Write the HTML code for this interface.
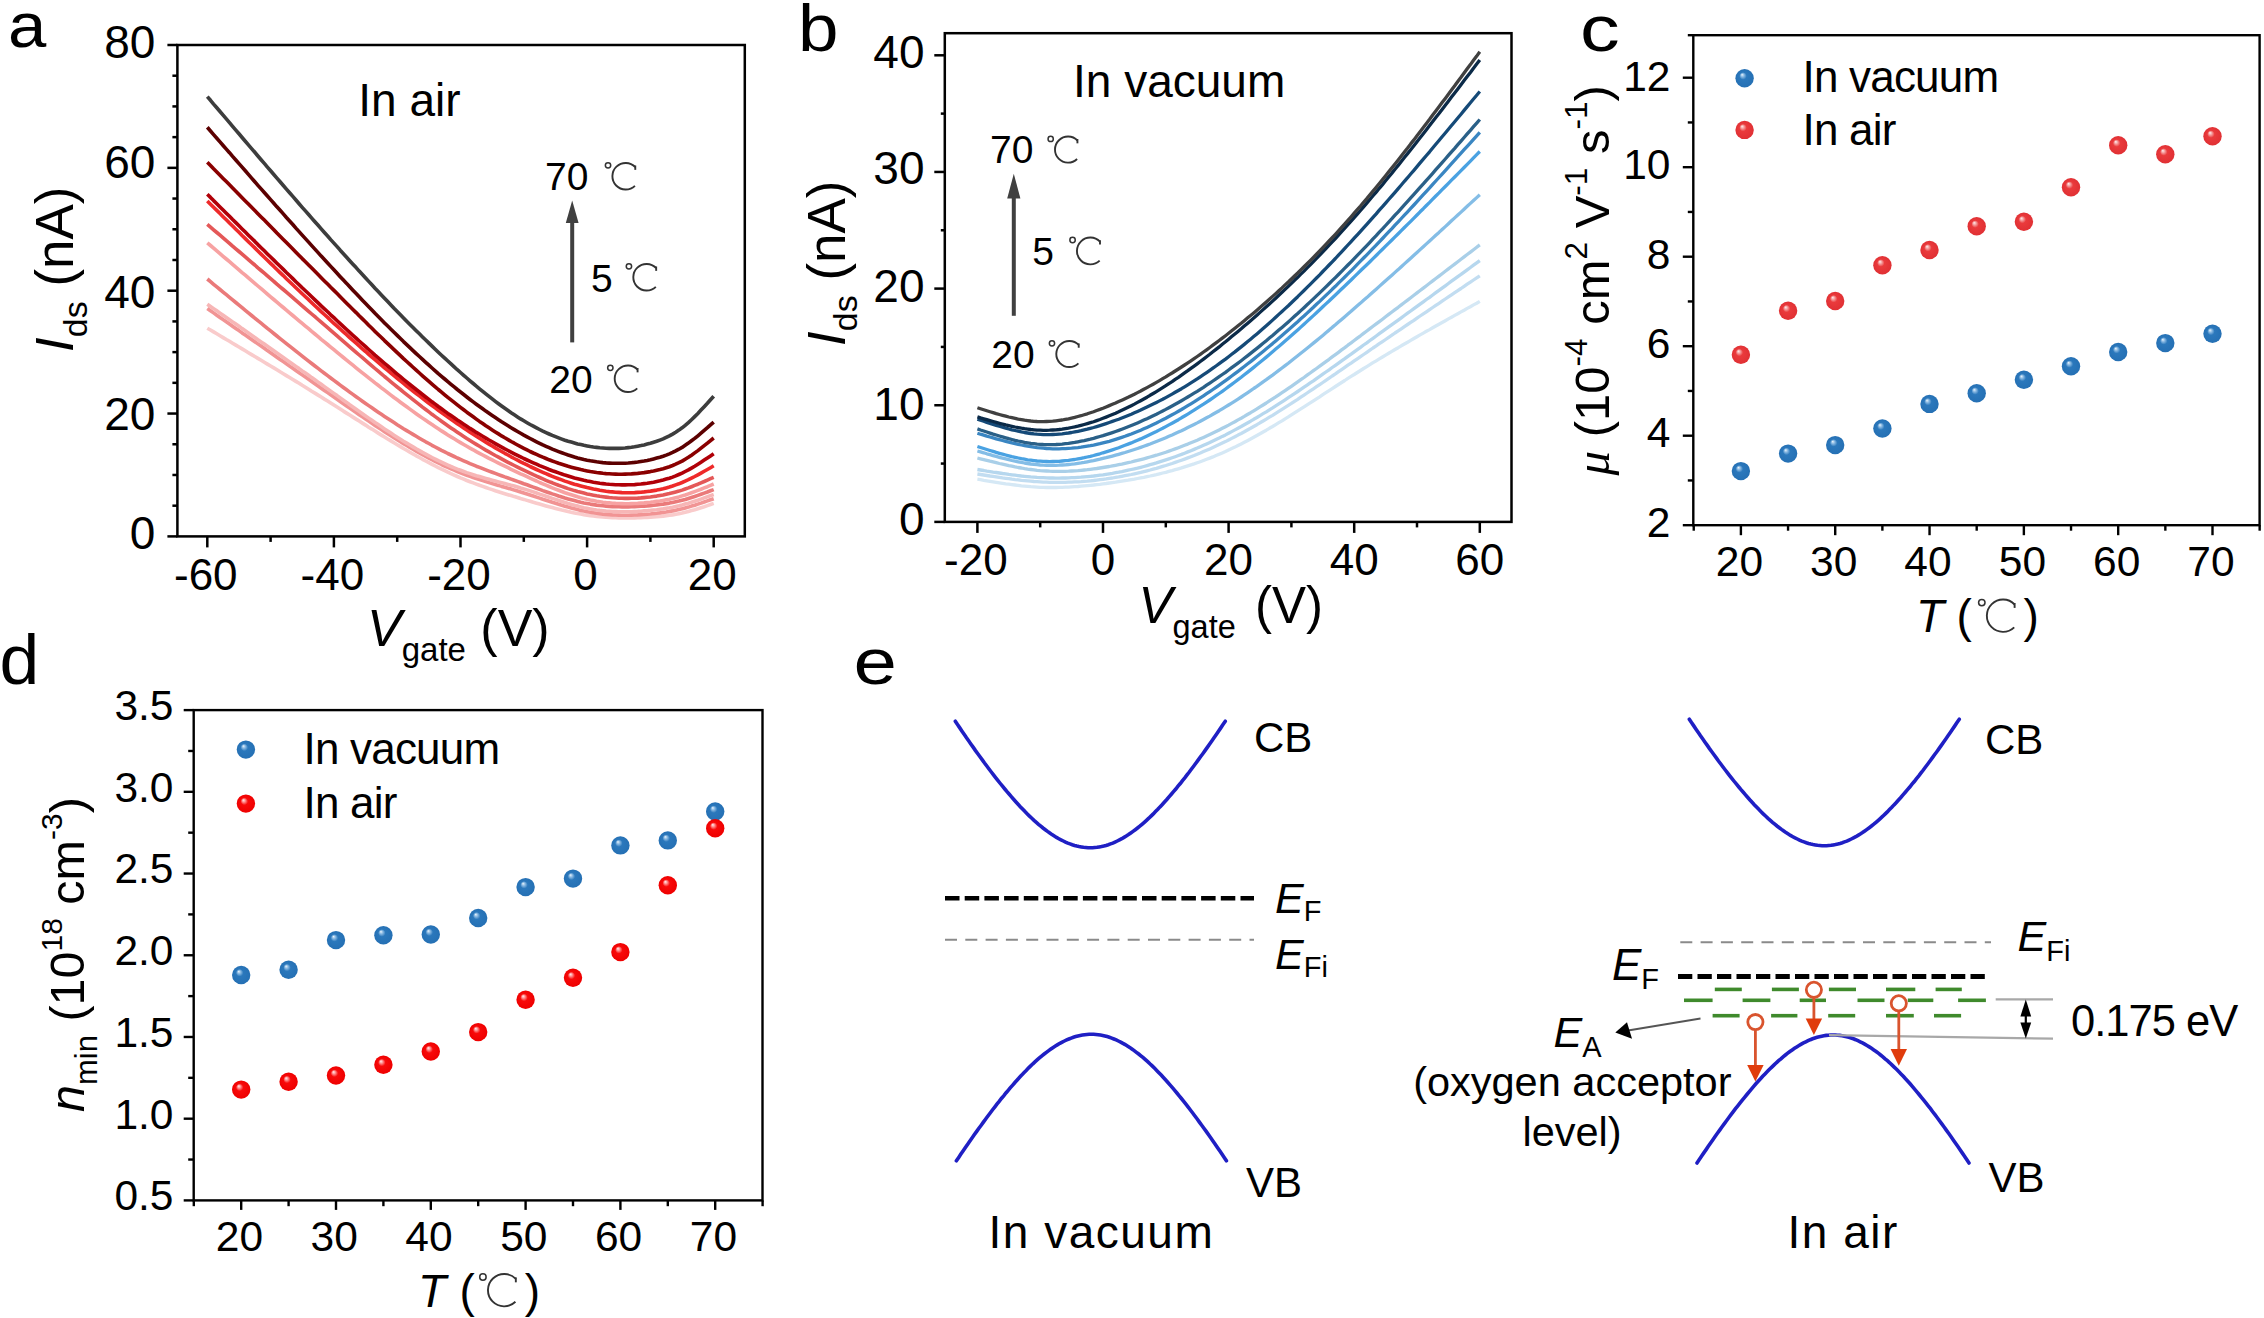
<!DOCTYPE html>
<html><head><meta charset="utf-8"><style>
html,body{margin:0;padding:0;background:#fff;overflow:hidden;}
svg{display:block;}
</style></head><body>
<svg width="2264" height="1318" viewBox="0 0 2264 1318">
<rect width="2264" height="1318" fill="#fff"/>
<defs>
<radialGradient id="gb" cx="0.5" cy="0.5" r="0.5" fx="0.36" fy="0.3"><stop offset="0" stop-color="#eef6fc"/><stop offset="0.16" stop-color="#94c0e6"/><stop offset="0.4" stop-color="#2b78bc"/><stop offset="1" stop-color="#2570b4"/></radialGradient>
<radialGradient id="gr" cx="0.5" cy="0.5" r="0.5" fx="0.36" fy="0.3"><stop offset="0" stop-color="#fff0f0"/><stop offset="0.16" stop-color="#f6a8a8"/><stop offset="0.4" stop-color="#ea3a3c"/><stop offset="1" stop-color="#e03034"/></radialGradient>
<radialGradient id="gr2" cx="0.5" cy="0.5" r="0.5" fx="0.36" fy="0.3"><stop offset="0" stop-color="#fff0f0"/><stop offset="0.16" stop-color="#ff9a9a"/><stop offset="0.4" stop-color="#f80a0a"/><stop offset="1" stop-color="#ee0000"/></radialGradient>
</defs>
<text transform="translate(8,47) scale(1.06,0.96)" font-size="65" font-family='"Liberation Sans", sans-serif'>a</text>
<rect x="177.4" y="45.0" width="567.4" height="491.4" fill="none" stroke="#000" stroke-width="2.5"/>
<line x1="167.40" y1="536.40" x2="177.40" y2="536.40" stroke="#000" stroke-width="2.5" />
<line x1="172.40" y1="505.69" x2="177.40" y2="505.69" stroke="#000" stroke-width="2.5" />
<line x1="172.40" y1="474.97" x2="177.40" y2="474.97" stroke="#000" stroke-width="2.5" />
<line x1="172.40" y1="444.26" x2="177.40" y2="444.26" stroke="#000" stroke-width="2.5" />
<line x1="167.40" y1="413.55" x2="177.40" y2="413.55" stroke="#000" stroke-width="2.5" />
<line x1="172.40" y1="382.84" x2="177.40" y2="382.84" stroke="#000" stroke-width="2.5" />
<line x1="172.40" y1="352.12" x2="177.40" y2="352.12" stroke="#000" stroke-width="2.5" />
<line x1="172.40" y1="321.41" x2="177.40" y2="321.41" stroke="#000" stroke-width="2.5" />
<line x1="167.40" y1="290.70" x2="177.40" y2="290.70" stroke="#000" stroke-width="2.5" />
<line x1="172.40" y1="259.99" x2="177.40" y2="259.99" stroke="#000" stroke-width="2.5" />
<line x1="172.40" y1="229.27" x2="177.40" y2="229.27" stroke="#000" stroke-width="2.5" />
<line x1="172.40" y1="198.56" x2="177.40" y2="198.56" stroke="#000" stroke-width="2.5" />
<line x1="167.40" y1="167.85" x2="177.40" y2="167.85" stroke="#000" stroke-width="2.5" />
<line x1="172.40" y1="137.14" x2="177.40" y2="137.14" stroke="#000" stroke-width="2.5" />
<line x1="172.40" y1="106.42" x2="177.40" y2="106.42" stroke="#000" stroke-width="2.5" />
<line x1="172.40" y1="75.71" x2="177.40" y2="75.71" stroke="#000" stroke-width="2.5" />
<line x1="167.40" y1="45.00" x2="177.40" y2="45.00" stroke="#000" stroke-width="2.5" />
<text x="155.3" y="549.4" font-size="46" text-anchor="end" fill="#000" font-family='"Liberation Sans", sans-serif' >0</text>
<text x="155.3" y="429.8" font-size="46" text-anchor="end" fill="#000" font-family='"Liberation Sans", sans-serif' >20</text>
<text x="155.3" y="307.9" font-size="46" text-anchor="end" fill="#000" font-family='"Liberation Sans", sans-serif' >40</text>
<text x="155.3" y="177.5" font-size="46" text-anchor="end" fill="#000" font-family='"Liberation Sans", sans-serif' >60</text>
<text x="155.3" y="57.9" font-size="46" text-anchor="end" fill="#000" font-family='"Liberation Sans", sans-serif' >80</text>
<line x1="207.30" y1="536.40" x2="207.30" y2="547.40" stroke="#000" stroke-width="2.5" />
<line x1="270.60" y1="536.40" x2="270.60" y2="541.90" stroke="#000" stroke-width="2.5" />
<line x1="333.90" y1="536.40" x2="333.90" y2="547.40" stroke="#000" stroke-width="2.5" />
<line x1="397.20" y1="536.40" x2="397.20" y2="541.90" stroke="#000" stroke-width="2.5" />
<line x1="460.50" y1="536.40" x2="460.50" y2="547.40" stroke="#000" stroke-width="2.5" />
<line x1="523.80" y1="536.40" x2="523.80" y2="541.90" stroke="#000" stroke-width="2.5" />
<line x1="587.10" y1="536.40" x2="587.10" y2="547.40" stroke="#000" stroke-width="2.5" />
<line x1="650.40" y1="536.40" x2="650.40" y2="541.90" stroke="#000" stroke-width="2.5" />
<line x1="713.70" y1="536.40" x2="713.70" y2="547.40" stroke="#000" stroke-width="2.5" />
<text x="205.8" y="590.3" font-size="44" text-anchor="middle" fill="#000" font-family='"Liberation Sans", sans-serif' >-60</text>
<text x="332.4" y="590.3" font-size="44" text-anchor="middle" fill="#000" font-family='"Liberation Sans", sans-serif' >-40</text>
<text x="459.0" y="590.3" font-size="44" text-anchor="middle" fill="#000" font-family='"Liberation Sans", sans-serif' >-20</text>
<text x="585.6" y="590.3" font-size="44" text-anchor="middle" fill="#000" font-family='"Liberation Sans", sans-serif' >0</text>
<text x="712.2" y="590.3" font-size="44" text-anchor="middle" fill="#000" font-family='"Liberation Sans", sans-serif' >20</text>
<path d="M207.3,328.2 L210.5,330.0 L213.6,331.9 L216.8,333.8 L220.0,335.7 L223.1,337.6 L226.3,339.5 L229.5,341.3 L232.6,343.2 L235.8,345.1 L239.0,347.0 L242.1,348.9 L245.3,350.8 L248.4,352.7 L251.6,354.6 L254.8,356.5 L257.9,358.4 L261.1,360.3 L264.3,362.2 L267.4,364.1 L270.6,366.0 L273.8,367.9 L276.9,369.8 L280.1,371.8 L283.3,373.7 L286.4,375.6 L289.6,377.5 L292.8,379.5 L295.9,381.4 L299.1,383.3 L302.2,385.3 L305.4,387.2 L308.6,389.2 L311.7,391.2 L314.9,393.1 L318.1,395.1 L321.2,397.1 L324.4,399.1 L327.6,401.0 L330.7,403.0 L333.9,405.0 L337.1,407.0 L340.2,409.0 L343.4,411.1 L346.6,413.1 L349.7,415.1 L352.9,417.1 L356.1,419.1 L359.2,421.1 L362.4,423.1 L365.6,425.1 L368.7,427.2 L371.9,429.1 L375.0,431.1 L378.2,433.1 L381.4,435.1 L384.5,437.0 L387.7,439.0 L390.9,440.9 L394.0,442.8 L397.2,444.7 L400.4,446.6 L403.5,448.5 L406.7,450.3 L409.9,452.2 L413.0,454.0 L416.2,455.8 L419.4,457.5 L422.5,459.3 L425.7,461.0 L428.9,462.7 L432.0,464.3 L435.2,466.0 L438.3,467.6 L441.5,469.1 L444.7,470.7 L447.8,472.2 L451.0,473.7 L454.2,475.1 L457.3,476.5 L460.5,477.9 L463.7,479.2 L466.8,480.5 L470.0,481.7 L473.2,482.9 L476.3,484.1 L479.5,485.3 L482.7,486.4 L485.8,487.5 L489.0,488.6 L492.2,489.6 L495.3,490.7 L498.5,491.7 L501.6,492.7 L504.8,493.7 L508.0,494.7 L511.1,495.6 L514.3,496.6 L517.5,497.5 L520.6,498.5 L523.8,499.4 L527.0,500.4 L530.1,501.3 L533.3,502.3 L536.5,503.2 L539.6,504.1 L542.8,505.0 L546.0,505.9 L549.1,506.8 L552.3,507.6 L555.5,508.5 L558.6,509.3 L561.8,510.1 L564.9,510.8 L568.1,511.6 L571.3,512.3 L574.4,512.9 L577.6,513.5 L580.8,514.1 L583.9,514.7 L587.1,515.2 L590.3,515.6 L593.4,516.0 L596.6,516.4 L599.8,516.7 L602.9,517.0 L606.1,517.3 L609.3,517.5 L612.4,517.7 L615.6,517.8 L618.8,517.9 L621.9,517.9 L625.1,518.0 L628.2,518.0 L631.4,517.9 L634.6,517.9 L637.7,517.8 L640.9,517.7 L644.1,517.5 L647.2,517.4 L650.4,517.2 L653.6,517.0 L656.7,516.7 L659.9,516.4 L663.1,516.1 L666.2,515.7 L669.4,515.3 L672.6,514.9 L675.7,514.3 L678.9,513.7 L682.1,513.1 L685.2,512.3 L688.4,511.5 L691.5,510.6 L694.7,509.7 L697.9,508.7 L701.0,507.7 L704.2,506.7 L707.4,505.6 L710.5,504.5 L713.7,503.4" fill="none" stroke="#f9cbcb" stroke-width="3.6" stroke-linejoin="round"/>
<path d="M207.3,308.5 L210.5,310.7 L213.6,312.9 L216.8,315.2 L220.0,317.4 L223.1,319.6 L226.3,321.8 L229.5,324.0 L232.6,326.2 L235.8,328.4 L239.0,330.6 L242.1,332.9 L245.3,335.1 L248.4,337.3 L251.6,339.5 L254.8,341.7 L257.9,343.9 L261.1,346.1 L264.3,348.3 L267.4,350.6 L270.6,352.8 L273.8,355.0 L276.9,357.2 L280.1,359.4 L283.3,361.6 L286.4,363.8 L289.6,366.1 L292.8,368.3 L295.9,370.5 L299.1,372.7 L302.2,374.9 L305.4,377.1 L308.6,379.3 L311.7,381.5 L314.9,383.8 L318.1,386.0 L321.2,388.2 L324.4,390.4 L327.6,392.6 L330.7,394.8 L333.9,397.0 L337.1,399.3 L340.2,401.5 L343.4,403.7 L346.6,405.9 L349.7,408.1 L352.9,410.3 L356.1,412.5 L359.2,414.7 L362.4,416.8 L365.6,419.0 L368.7,421.1 L371.9,423.3 L375.0,425.4 L378.2,427.5 L381.4,429.6 L384.5,431.7 L387.7,433.7 L390.9,435.7 L394.0,437.7 L397.2,439.7 L400.4,441.7 L403.5,443.6 L406.7,445.5 L409.9,447.4 L413.0,449.3 L416.2,451.1 L419.4,452.9 L422.5,454.7 L425.7,456.4 L428.9,458.1 L432.0,459.7 L435.2,461.4 L438.3,462.9 L441.5,464.5 L444.7,466.0 L447.8,467.4 L451.0,468.9 L454.2,470.2 L457.3,471.6 L460.5,472.8 L463.7,474.1 L466.8,475.2 L470.0,476.4 L473.2,477.5 L476.3,478.6 L479.5,479.6 L482.7,480.6 L485.8,481.6 L489.0,482.6 L492.2,483.6 L495.3,484.5 L498.5,485.4 L501.6,486.4 L504.8,487.3 L508.0,488.2 L511.1,489.1 L514.3,490.1 L517.5,491.0 L520.6,492.0 L523.8,493.0 L527.0,494.0 L530.1,495.0 L533.3,496.0 L536.5,497.1 L539.6,498.1 L542.8,499.2 L546.0,500.2 L549.1,501.2 L552.3,502.3 L555.5,503.3 L558.6,504.3 L561.8,505.3 L564.9,506.2 L568.1,507.1 L571.3,508.0 L574.4,508.8 L577.6,509.6 L580.8,510.4 L583.9,511.1 L587.1,511.7 L590.3,512.3 L593.4,512.8 L596.6,513.3 L599.8,513.7 L602.9,514.1 L606.1,514.4 L609.3,514.7 L612.4,514.9 L615.6,515.0 L618.8,515.1 L621.9,515.2 L625.1,515.2 L628.2,515.2 L631.4,515.1 L634.6,515.0 L637.7,514.9 L640.9,514.7 L644.1,514.5 L647.2,514.2 L650.4,514.0 L653.6,513.6 L656.7,513.3 L659.9,512.9 L663.1,512.4 L666.2,512.0 L669.4,511.4 L672.6,510.9 L675.7,510.2 L678.9,509.5 L682.1,508.8 L685.2,507.9 L688.4,507.1 L691.5,506.1 L694.7,505.2 L697.9,504.1 L701.0,503.1 L704.2,502.0 L707.4,500.9 L710.5,499.8 L713.7,498.7" fill="none" stroke="#f19494" stroke-width="3.6" stroke-linejoin="round"/>
<path d="M207.3,304.2 L210.5,306.4 L213.6,308.6 L216.8,310.8 L220.0,313.1 L223.1,315.3 L226.3,317.5 L229.5,319.7 L232.6,321.9 L235.8,324.1 L239.0,326.3 L242.1,328.6 L245.3,330.8 L248.4,333.0 L251.6,335.2 L254.8,337.4 L257.9,339.7 L261.1,341.9 L264.3,344.1 L267.4,346.3 L270.6,348.5 L273.8,350.8 L276.9,353.0 L280.1,355.2 L283.3,357.5 L286.4,359.7 L289.6,361.9 L292.8,364.2 L295.9,366.4 L299.1,368.6 L302.2,370.9 L305.4,373.1 L308.6,375.3 L311.7,377.6 L314.9,379.8 L318.1,382.1 L321.2,384.3 L324.4,386.6 L327.6,388.9 L330.7,391.1 L333.9,393.4 L337.1,395.6 L340.2,397.9 L343.4,400.2 L346.6,402.4 L349.7,404.7 L352.9,406.9 L356.1,409.2 L359.2,411.4 L362.4,413.7 L365.6,415.9 L368.7,418.1 L371.9,420.3 L375.0,422.5 L378.2,424.6 L381.4,426.8 L384.5,428.9 L387.7,431.0 L390.9,433.1 L394.0,435.2 L397.2,437.2 L400.4,439.2 L403.5,441.2 L406.7,443.1 L409.9,445.0 L413.0,446.9 L416.2,448.8 L419.4,450.6 L422.5,452.4 L425.7,454.1 L428.9,455.8 L432.0,457.5 L435.2,459.1 L438.3,460.7 L441.5,462.2 L444.7,463.7 L447.8,465.1 L451.0,466.5 L454.2,467.8 L457.3,469.1 L460.5,470.3 L463.7,471.5 L466.8,472.6 L470.0,473.6 L473.2,474.7 L476.3,475.7 L479.5,476.6 L482.7,477.5 L485.8,478.4 L489.0,479.3 L492.2,480.2 L495.3,481.0 L498.5,481.9 L501.6,482.7 L504.8,483.5 L508.0,484.4 L511.1,485.3 L514.3,486.1 L517.5,487.0 L520.6,488.0 L523.8,488.9 L527.0,489.9 L530.1,490.9 L533.3,491.9 L536.5,493.0 L539.6,494.1 L542.8,495.1 L546.0,496.2 L549.1,497.3 L552.3,498.4 L555.5,499.4 L558.6,500.5 L561.8,501.5 L564.9,502.5 L568.1,503.5 L571.3,504.4 L574.4,505.3 L577.6,506.1 L580.8,506.9 L583.9,507.7 L587.1,508.3 L590.3,508.9 L593.4,509.5 L596.6,510.0 L599.8,510.4 L602.9,510.7 L606.1,511.1 L609.3,511.3 L612.4,511.5 L615.6,511.6 L618.8,511.7 L621.9,511.8 L625.1,511.8 L628.2,511.8 L631.4,511.7 L634.6,511.5 L637.7,511.4 L640.9,511.2 L644.1,510.9 L647.2,510.7 L650.4,510.4 L653.6,510.0 L656.7,509.7 L659.9,509.2 L663.1,508.8 L666.2,508.3 L669.4,507.8 L672.6,507.2 L675.7,506.5 L678.9,505.8 L682.1,505.0 L685.2,504.1 L688.4,503.2 L691.5,502.2 L694.7,501.2 L697.9,500.2 L701.0,499.1 L704.2,497.9 L707.4,496.8 L710.5,495.6 L713.7,494.5" fill="none" stroke="#f7b6b6" stroke-width="3.6" stroke-linejoin="round"/>
<path d="M207.3,279.0 L210.5,281.7 L213.6,284.3 L216.8,286.9 L220.0,289.5 L223.1,292.1 L226.3,294.7 L229.5,297.3 L232.6,299.9 L235.8,302.5 L239.0,305.1 L242.1,307.7 L245.3,310.3 L248.4,312.9 L251.6,315.5 L254.8,318.1 L257.9,320.7 L261.1,323.2 L264.3,325.8 L267.4,328.4 L270.6,330.9 L273.8,333.5 L276.9,336.0 L280.1,338.6 L283.3,341.1 L286.4,343.6 L289.6,346.1 L292.8,348.6 L295.9,351.1 L299.1,353.6 L302.2,356.1 L305.4,358.6 L308.6,361.1 L311.7,363.5 L314.9,366.0 L318.1,368.4 L321.2,370.8 L324.4,373.2 L327.6,375.6 L330.7,378.0 L333.9,380.4 L337.1,382.8 L340.2,385.1 L343.4,387.5 L346.6,389.8 L349.7,392.1 L352.9,394.4 L356.1,396.7 L359.2,398.9 L362.4,401.2 L365.6,403.4 L368.7,405.6 L371.9,407.8 L375.0,410.0 L378.2,412.2 L381.4,414.3 L384.5,416.4 L387.7,418.5 L390.9,420.6 L394.0,422.6 L397.2,424.7 L400.4,426.7 L403.5,428.7 L406.7,430.6 L409.9,432.5 L413.0,434.4 L416.2,436.3 L419.4,438.2 L422.5,440.0 L425.7,441.8 L428.9,443.5 L432.0,445.3 L435.2,447.0 L438.3,448.6 L441.5,450.3 L444.7,451.9 L447.8,453.5 L451.0,455.0 L454.2,456.5 L457.3,458.0 L460.5,459.4 L463.7,460.8 L466.8,462.2 L470.0,463.6 L473.2,464.9 L476.3,466.2 L479.5,467.4 L482.7,468.7 L485.8,469.9 L489.0,471.1 L492.2,472.3 L495.3,473.4 L498.5,474.6 L501.6,475.7 L504.8,476.9 L508.0,478.0 L511.1,479.1 L514.3,480.3 L517.5,481.4 L520.6,482.5 L523.8,483.7 L527.0,484.8 L530.1,486.0 L533.3,487.1 L536.5,488.3 L539.6,489.4 L542.8,490.6 L546.0,491.7 L549.1,492.8 L552.3,493.9 L555.5,494.9 L558.6,496.0 L561.8,497.0 L564.9,498.0 L568.1,498.9 L571.3,499.8 L574.4,500.6 L577.6,501.4 L580.8,502.2 L583.9,502.9 L587.1,503.5 L590.3,504.1 L593.4,504.6 L596.6,505.1 L599.8,505.5 L602.9,505.8 L606.1,506.1 L609.3,506.4 L612.4,506.6 L615.6,506.7 L618.8,506.8 L621.9,506.9 L625.1,506.9 L628.2,506.9 L631.4,506.8 L634.6,506.7 L637.7,506.5 L640.9,506.3 L644.1,506.1 L647.2,505.9 L650.4,505.6 L653.6,505.3 L656.7,504.9 L659.9,504.5 L663.1,504.1 L666.2,503.6 L669.4,503.1 L672.6,502.5 L675.7,501.8 L678.9,501.1 L682.1,500.3 L685.2,499.5 L688.4,498.5 L691.5,497.5 L694.7,496.5 L697.9,495.4 L701.0,494.3 L704.2,493.1 L707.4,492.0 L710.5,490.8 L713.7,489.6" fill="none" stroke="#ea7a7a" stroke-width="3.6" stroke-linejoin="round"/>
<path d="M207.3,242.8 L210.5,245.5 L213.6,248.2 L216.8,250.9 L220.0,253.6 L223.1,256.3 L226.3,259.0 L229.5,261.7 L232.6,264.4 L235.8,267.1 L239.0,269.9 L242.1,272.6 L245.3,275.2 L248.4,277.9 L251.6,280.6 L254.8,283.3 L257.9,286.0 L261.1,288.7 L264.3,291.4 L267.4,294.1 L270.6,296.8 L273.8,299.5 L276.9,302.1 L280.1,304.8 L283.3,307.5 L286.4,310.1 L289.6,312.8 L292.8,315.5 L295.9,318.1 L299.1,320.8 L302.2,323.4 L305.4,326.1 L308.6,328.7 L311.7,331.4 L314.9,334.0 L318.1,336.6 L321.2,339.3 L324.4,341.9 L327.6,344.5 L330.7,347.1 L333.9,349.7 L337.1,352.3 L340.2,354.9 L343.4,357.5 L346.6,360.1 L349.7,362.6 L352.9,365.2 L356.1,367.8 L359.2,370.3 L362.4,372.8 L365.6,375.4 L368.7,377.9 L371.9,380.4 L375.0,382.9 L378.2,385.3 L381.4,387.8 L384.5,390.2 L387.7,392.7 L390.9,395.1 L394.0,397.5 L397.2,399.8 L400.4,402.2 L403.5,404.5 L406.7,406.8 L409.9,409.1 L413.0,411.4 L416.2,413.7 L419.4,415.9 L422.5,418.1 L425.7,420.3 L428.9,422.5 L432.0,424.6 L435.2,426.7 L438.3,428.8 L441.5,430.9 L444.7,432.9 L447.8,434.9 L451.0,436.9 L454.2,438.8 L457.3,440.7 L460.5,442.6 L463.7,444.5 L466.8,446.3 L470.0,448.1 L473.2,449.8 L476.3,451.6 L479.5,453.3 L482.7,455.0 L485.8,456.6 L489.0,458.3 L492.2,459.9 L495.3,461.5 L498.5,463.1 L501.6,464.7 L504.8,466.2 L508.0,467.7 L511.1,469.3 L514.3,470.8 L517.5,472.3 L520.6,473.8 L523.8,475.2 L527.0,476.7 L530.1,478.2 L533.3,479.6 L536.5,481.0 L539.6,482.5 L542.8,483.8 L546.0,485.2 L549.1,486.5 L552.3,487.8 L555.5,489.1 L558.6,490.3 L561.8,491.5 L564.9,492.7 L568.1,493.8 L571.3,494.8 L574.4,495.8 L577.6,496.8 L580.8,497.7 L583.9,498.5 L587.1,499.3 L590.3,500.0 L593.4,500.6 L596.6,501.2 L599.8,501.7 L602.9,502.2 L606.1,502.6 L609.3,502.9 L612.4,503.2 L615.6,503.4 L618.8,503.5 L621.9,503.6 L625.1,503.7 L628.2,503.7 L631.4,503.6 L634.6,503.5 L637.7,503.4 L640.9,503.1 L644.1,502.9 L647.2,502.6 L650.4,502.3 L653.6,501.9 L656.7,501.4 L659.9,501.0 L663.1,500.4 L666.2,499.8 L669.4,499.2 L672.6,498.5 L675.7,497.7 L678.9,496.9 L682.1,495.9 L685.2,495.0 L688.4,493.9 L691.5,492.8 L694.7,491.6 L697.9,490.4 L701.0,489.2 L704.2,487.9 L707.4,486.7 L710.5,485.4 L713.7,484.0" fill="none" stroke="#f7a2a2" stroke-width="3.6" stroke-linejoin="round"/>
<path d="M207.3,224.4 L210.5,227.1 L213.6,229.8 L216.8,232.5 L220.0,235.2 L223.1,237.9 L226.3,240.6 L229.5,243.3 L232.6,246.1 L235.8,248.8 L239.0,251.5 L242.1,254.2 L245.3,256.9 L248.4,259.6 L251.6,262.3 L254.8,265.0 L257.9,267.8 L261.1,270.5 L264.3,273.2 L267.4,275.9 L270.6,278.6 L273.8,281.3 L276.9,284.1 L280.1,286.8 L283.3,289.5 L286.4,292.2 L289.6,294.9 L292.8,297.7 L295.9,300.4 L299.1,303.1 L302.2,305.8 L305.4,308.6 L308.6,311.3 L311.7,314.0 L314.9,316.7 L318.1,319.5 L321.2,322.2 L324.4,324.9 L327.6,327.7 L330.7,330.4 L333.9,333.1 L337.1,335.9 L340.2,338.6 L343.4,341.4 L346.6,344.1 L349.7,346.8 L352.9,349.6 L356.1,352.3 L359.2,355.0 L362.4,357.7 L365.6,360.4 L368.7,363.1 L371.9,365.8 L375.0,368.5 L378.2,371.2 L381.4,373.8 L384.5,376.5 L387.7,379.1 L390.9,381.8 L394.0,384.4 L397.2,387.0 L400.4,389.5 L403.5,392.1 L406.7,394.7 L409.9,397.2 L413.0,399.7 L416.2,402.2 L419.4,404.6 L422.5,407.1 L425.7,409.5 L428.9,411.9 L432.0,414.3 L435.2,416.6 L438.3,418.9 L441.5,421.2 L444.7,423.5 L447.8,425.7 L451.0,427.9 L454.2,430.1 L457.3,432.2 L460.5,434.3 L463.7,436.4 L466.8,438.5 L470.0,440.5 L473.2,442.5 L476.3,444.4 L479.5,446.3 L482.7,448.2 L485.8,450.1 L489.0,451.9 L492.2,453.7 L495.3,455.5 L498.5,457.2 L501.6,458.9 L504.8,460.6 L508.0,462.3 L511.1,463.9 L514.3,465.5 L517.5,467.1 L520.6,468.7 L523.8,470.2 L527.0,471.7 L530.1,473.2 L533.3,474.7 L536.5,476.1 L539.6,477.5 L542.8,478.9 L546.0,480.3 L549.1,481.6 L552.3,482.8 L555.5,484.1 L558.6,485.3 L561.8,486.4 L564.9,487.5 L568.1,488.6 L571.3,489.6 L574.4,490.6 L577.6,491.5 L580.8,492.3 L583.9,493.1 L587.1,493.9 L590.3,494.6 L593.4,495.2 L596.6,495.8 L599.8,496.3 L602.9,496.7 L606.1,497.1 L609.3,497.5 L612.4,497.8 L615.6,498.0 L618.8,498.2 L621.9,498.3 L625.1,498.4 L628.2,498.4 L631.4,498.3 L634.6,498.2 L637.7,498.1 L640.9,497.9 L644.1,497.6 L647.2,497.3 L650.4,497.0 L653.6,496.5 L656.7,496.1 L659.9,495.5 L663.1,495.0 L666.2,494.3 L669.4,493.6 L672.6,492.8 L675.7,492.0 L678.9,491.1 L682.1,490.1 L685.2,489.0 L688.4,487.9 L691.5,486.7 L694.7,485.4 L697.9,484.2 L701.0,482.8 L704.2,481.5 L707.4,480.1 L710.5,478.7 L713.7,477.3" fill="none" stroke="#e45858" stroke-width="3.6" stroke-linejoin="round"/>
<path d="M207.3,201.0 L210.5,204.2 L213.6,207.3 L216.8,210.4 L220.0,213.6 L223.1,216.7 L226.3,219.8 L229.5,223.0 L232.6,226.1 L235.8,229.2 L239.0,232.3 L242.1,235.5 L245.3,238.6 L248.4,241.7 L251.6,244.8 L254.8,247.9 L257.9,251.0 L261.1,254.1 L264.3,257.2 L267.4,260.3 L270.6,263.4 L273.8,266.4 L276.9,269.5 L280.1,272.6 L283.3,275.6 L286.4,278.7 L289.6,281.7 L292.8,284.7 L295.9,287.7 L299.1,290.8 L302.2,293.8 L305.4,296.8 L308.6,299.7 L311.7,302.7 L314.9,305.7 L318.1,308.6 L321.2,311.6 L324.4,314.5 L327.6,317.4 L330.7,320.4 L333.9,323.3 L337.1,326.1 L340.2,329.0 L343.4,331.9 L346.6,334.7 L349.7,337.6 L352.9,340.4 L356.1,343.2 L359.2,346.0 L362.4,348.8 L365.6,351.5 L368.7,354.3 L371.9,357.0 L375.0,359.7 L378.2,362.4 L381.4,365.1 L384.5,367.8 L387.7,370.4 L390.9,373.1 L394.0,375.7 L397.2,378.3 L400.4,380.9 L403.5,383.4 L406.7,386.0 L409.9,388.5 L413.0,391.0 L416.2,393.5 L419.4,395.9 L422.5,398.3 L425.7,400.8 L428.9,403.2 L432.0,405.5 L435.2,407.9 L438.3,410.2 L441.5,412.5 L444.7,414.8 L447.8,417.0 L451.0,419.3 L454.2,421.5 L457.3,423.7 L460.5,425.8 L463.7,428.0 L466.8,430.1 L470.0,432.2 L473.2,434.2 L476.3,436.2 L479.5,438.2 L482.7,440.2 L485.8,442.2 L489.0,444.1 L492.2,446.0 L495.3,447.9 L498.5,449.7 L501.6,451.5 L504.8,453.3 L508.0,455.0 L511.1,456.8 L514.3,458.5 L517.5,460.1 L520.6,461.8 L523.8,463.4 L527.0,464.9 L530.1,466.5 L533.3,468.0 L536.5,469.5 L539.6,470.9 L542.8,472.3 L546.0,473.7 L549.1,475.0 L552.3,476.3 L555.5,477.6 L558.6,478.8 L561.8,479.9 L564.9,481.1 L568.1,482.1 L571.3,483.2 L574.4,484.2 L577.6,485.1 L580.8,486.0 L583.9,486.8 L587.1,487.6 L590.3,488.3 L593.4,489.0 L596.6,489.6 L599.8,490.2 L602.9,490.7 L606.1,491.2 L609.3,491.6 L612.4,491.9 L615.6,492.2 L618.8,492.4 L621.9,492.6 L625.1,492.7 L628.2,492.7 L631.4,492.7 L634.6,492.6 L637.7,492.4 L640.9,492.2 L644.1,491.9 L647.2,491.5 L650.4,491.1 L653.6,490.6 L656.7,490.1 L659.9,489.4 L663.1,488.7 L666.2,487.9 L669.4,487.0 L672.6,486.0 L675.7,484.9 L678.9,483.8 L682.1,482.5 L685.2,481.1 L688.4,479.7 L691.5,478.1 L694.7,476.5 L697.9,474.8 L701.0,473.1 L704.2,471.3 L707.4,469.5 L710.5,467.7 L713.7,465.8" fill="none" stroke="#ee2a2a" stroke-width="3.6" stroke-linejoin="round"/>
<path d="M207.3,194.3 L210.5,197.4 L213.6,200.6 L216.8,203.7 L220.0,206.9 L223.1,210.0 L226.3,213.2 L229.5,216.3 L232.6,219.5 L235.8,222.6 L239.0,225.8 L242.1,228.9 L245.3,232.1 L248.4,235.2 L251.6,238.3 L254.8,241.4 L257.9,244.6 L261.1,247.7 L264.3,250.8 L267.4,253.9 L270.6,257.0 L273.8,260.1 L276.9,263.2 L280.1,266.3 L283.3,269.4 L286.4,272.5 L289.6,275.5 L292.8,278.6 L295.9,281.7 L299.1,284.7 L302.2,287.8 L305.4,290.8 L308.6,293.8 L311.7,296.8 L314.9,299.9 L318.1,302.9 L321.2,305.9 L324.4,308.8 L327.6,311.8 L330.7,314.8 L333.9,317.7 L337.1,320.7 L340.2,323.6 L343.4,326.6 L346.6,329.5 L349.7,332.4 L352.9,335.3 L356.1,338.1 L359.2,341.0 L362.4,343.8 L365.6,346.7 L368.7,349.5 L371.9,352.3 L375.0,355.1 L378.2,357.8 L381.4,360.6 L384.5,363.3 L387.7,366.0 L390.9,368.7 L394.0,371.4 L397.2,374.1 L400.4,376.7 L403.5,379.3 L406.7,381.9 L409.9,384.5 L413.0,387.0 L416.2,389.5 L419.4,392.0 L422.5,394.5 L425.7,397.0 L428.9,399.4 L432.0,401.8 L435.2,404.1 L438.3,406.5 L441.5,408.8 L444.7,411.1 L447.8,413.4 L451.0,415.6 L454.2,417.8 L457.3,420.0 L460.5,422.1 L463.7,424.2 L466.8,426.3 L470.0,428.4 L473.2,430.4 L476.3,432.4 L479.5,434.3 L482.7,436.2 L485.8,438.1 L489.0,440.0 L492.2,441.8 L495.3,443.6 L498.5,445.4 L501.6,447.1 L504.8,448.9 L508.0,450.5 L511.1,452.2 L514.3,453.8 L517.5,455.4 L520.6,456.9 L523.8,458.5 L527.0,460.0 L530.1,461.4 L533.3,462.8 L536.5,464.2 L539.6,465.6 L542.8,466.9 L546.0,468.2 L549.1,469.5 L552.3,470.7 L555.5,471.8 L558.6,472.9 L561.8,474.0 L564.9,475.1 L568.1,476.0 L571.3,477.0 L574.4,477.9 L577.6,478.7 L580.8,479.5 L583.9,480.3 L587.1,481.0 L590.3,481.6 L593.4,482.2 L596.6,482.7 L599.8,483.2 L602.9,483.6 L606.1,484.0 L609.3,484.3 L612.4,484.5 L615.6,484.7 L618.8,484.8 L621.9,484.9 L625.1,484.9 L628.2,484.8 L631.4,484.7 L634.6,484.6 L637.7,484.3 L640.9,484.0 L644.1,483.6 L647.2,483.2 L650.4,482.7 L653.6,482.2 L656.7,481.5 L659.9,480.8 L663.1,480.0 L666.2,479.1 L669.4,478.2 L672.6,477.1 L675.7,475.9 L678.9,474.5 L682.1,473.1 L685.2,471.5 L688.4,469.9 L691.5,468.1 L694.7,466.2 L697.9,464.2 L701.0,462.2 L704.2,460.1 L707.4,458.0 L710.5,455.9 L713.7,453.7" fill="none" stroke="#b00008" stroke-width="3.6" stroke-linejoin="round"/>
<path d="M207.3,162.3 L210.5,165.5 L213.6,168.8 L216.8,172.0 L220.0,175.2 L223.1,178.4 L226.3,181.6 L229.5,184.8 L232.6,188.0 L235.8,191.2 L239.0,194.5 L242.1,197.7 L245.3,200.9 L248.4,204.1 L251.6,207.3 L254.8,210.5 L257.9,213.7 L261.1,216.9 L264.3,220.1 L267.4,223.3 L270.6,226.5 L273.8,229.7 L276.9,233.0 L280.1,236.2 L283.3,239.4 L286.4,242.6 L289.6,245.8 L292.8,249.0 L295.9,252.2 L299.1,255.4 L302.2,258.6 L305.4,261.7 L308.6,264.9 L311.7,268.1 L314.9,271.3 L318.1,274.5 L321.2,277.7 L324.4,280.9 L327.6,284.1 L330.7,287.3 L333.9,290.4 L337.1,293.6 L340.2,296.8 L343.4,300.0 L346.6,303.2 L349.7,306.3 L352.9,309.5 L356.1,312.6 L359.2,315.8 L362.4,318.9 L365.6,322.0 L368.7,325.2 L371.9,328.3 L375.0,331.4 L378.2,334.5 L381.4,337.5 L384.5,340.6 L387.7,343.6 L390.9,346.6 L394.0,349.6 L397.2,352.6 L400.4,355.6 L403.5,358.6 L406.7,361.5 L409.9,364.4 L413.0,367.3 L416.2,370.2 L419.4,373.0 L422.5,375.8 L425.7,378.6 L428.9,381.4 L432.0,384.1 L435.2,386.8 L438.3,389.5 L441.5,392.1 L444.7,394.8 L447.8,397.4 L451.0,399.9 L454.2,402.4 L457.3,404.9 L460.5,407.4 L463.7,409.8 L466.8,412.2 L470.0,414.5 L473.2,416.8 L476.3,419.1 L479.5,421.4 L482.7,423.5 L485.8,425.7 L489.0,427.8 L492.2,429.9 L495.3,431.9 L498.5,433.9 L501.6,435.9 L504.8,437.8 L508.0,439.6 L511.1,441.5 L514.3,443.2 L517.5,445.0 L520.6,446.7 L523.8,448.3 L527.0,449.9 L530.1,451.5 L533.3,453.0 L536.5,454.4 L539.6,455.8 L542.8,457.2 L546.0,458.5 L549.1,459.8 L552.3,461.0 L555.5,462.1 L558.6,463.3 L561.8,464.3 L564.9,465.3 L568.1,466.3 L571.3,467.2 L574.4,468.0 L577.6,468.8 L580.8,469.6 L583.9,470.3 L587.1,470.9 L590.3,471.5 L593.4,472.0 L596.6,472.5 L599.8,472.9 L602.9,473.3 L606.1,473.6 L609.3,473.8 L612.4,474.0 L615.6,474.1 L618.8,474.2 L621.9,474.2 L625.1,474.1 L628.2,474.0 L631.4,473.9 L634.6,473.6 L637.7,473.4 L640.9,473.0 L644.1,472.6 L647.2,472.1 L650.4,471.6 L653.6,471.0 L656.7,470.3 L659.9,469.6 L663.1,468.8 L666.2,467.8 L669.4,466.7 L672.6,465.5 L675.7,464.2 L678.9,462.7 L682.1,461.1 L685.2,459.2 L688.4,457.3 L691.5,455.2 L694.7,452.9 L697.9,450.6 L701.0,448.2 L704.2,445.7 L707.4,443.2 L710.5,440.6 L713.7,438.0" fill="none" stroke="#8a0000" stroke-width="3.6" stroke-linejoin="round"/>
<path d="M207.3,127.3 L210.5,131.0 L213.6,134.6 L216.8,138.2 L220.0,141.9 L223.1,145.5 L226.3,149.1 L229.5,152.7 L232.6,156.4 L235.8,160.0 L239.0,163.6 L242.1,167.2 L245.3,170.8 L248.4,174.4 L251.6,178.1 L254.8,181.7 L257.9,185.3 L261.1,188.9 L264.3,192.5 L267.4,196.0 L270.6,199.6 L273.8,203.2 L276.9,206.8 L280.1,210.3 L283.3,213.9 L286.4,217.5 L289.6,221.0 L292.8,224.5 L295.9,228.1 L299.1,231.6 L302.2,235.1 L305.4,238.6 L308.6,242.1 L311.7,245.6 L314.9,249.1 L318.1,252.6 L321.2,256.1 L324.4,259.5 L327.6,263.0 L330.7,266.4 L333.9,269.8 L337.1,273.3 L340.2,276.7 L343.4,280.1 L346.6,283.4 L349.7,286.8 L352.9,290.2 L356.1,293.5 L359.2,296.8 L362.4,300.2 L365.6,303.5 L368.7,306.7 L371.9,310.0 L375.0,313.3 L378.2,316.5 L381.4,319.7 L384.5,322.9 L387.7,326.1 L390.9,329.2 L394.0,332.3 L397.2,335.4 L400.4,338.5 L403.5,341.6 L406.7,344.6 L409.9,347.6 L413.0,350.6 L416.2,353.6 L419.4,356.5 L422.5,359.4 L425.7,362.3 L428.9,365.2 L432.0,368.0 L435.2,370.8 L438.3,373.6 L441.5,376.3 L444.7,379.0 L447.8,381.7 L451.0,384.3 L454.2,386.9 L457.3,389.5 L460.5,392.0 L463.7,394.5 L466.8,397.0 L470.0,399.5 L473.2,401.9 L476.3,404.2 L479.5,406.5 L482.7,408.8 L485.8,411.1 L489.0,413.3 L492.2,415.5 L495.3,417.6 L498.5,419.7 L501.6,421.8 L504.8,423.8 L508.0,425.8 L511.1,427.7 L514.3,429.6 L517.5,431.5 L520.6,433.3 L523.8,435.1 L527.0,436.8 L530.1,438.5 L533.3,440.2 L536.5,441.8 L539.6,443.3 L542.8,444.9 L546.0,446.3 L549.1,447.7 L552.3,449.1 L555.5,450.4 L558.6,451.6 L561.8,452.8 L564.9,453.9 L568.1,455.0 L571.3,456.0 L574.4,457.0 L577.6,457.9 L580.8,458.7 L583.9,459.5 L587.1,460.2 L590.3,460.8 L593.4,461.3 L596.6,461.8 L599.8,462.2 L602.9,462.6 L606.1,462.9 L609.3,463.1 L612.4,463.3 L615.6,463.3 L618.8,463.3 L621.9,463.3 L625.1,463.2 L628.2,463.0 L631.4,462.7 L634.6,462.4 L637.7,462.0 L640.9,461.5 L644.1,461.0 L647.2,460.4 L650.4,459.7 L653.6,458.9 L656.7,458.1 L659.9,457.2 L663.1,456.2 L666.2,455.1 L669.4,453.8 L672.6,452.4 L675.7,450.9 L678.9,449.2 L682.1,447.4 L685.2,445.3 L688.4,443.1 L691.5,440.8 L694.7,438.4 L697.9,435.8 L701.0,433.2 L704.2,430.4 L707.4,427.7 L710.5,424.9 L713.7,422.1" fill="none" stroke="#5c0000" stroke-width="3.6" stroke-linejoin="round"/>
<path d="M207.3,96.6 L210.5,100.3 L213.6,104.1 L216.8,107.8 L220.0,111.5 L223.1,115.2 L226.3,118.9 L229.5,122.7 L232.6,126.4 L235.8,130.1 L239.0,133.8 L242.1,137.5 L245.3,141.2 L248.4,144.9 L251.6,148.6 L254.8,152.3 L257.9,156.0 L261.1,159.7 L264.3,163.4 L267.4,167.1 L270.6,170.8 L273.8,174.5 L276.9,178.1 L280.1,181.8 L283.3,185.5 L286.4,189.1 L289.6,192.8 L292.8,196.4 L295.9,200.0 L299.1,203.7 L302.2,207.3 L305.4,210.9 L308.6,214.5 L311.7,218.1 L314.9,221.7 L318.1,225.3 L321.2,228.9 L324.4,232.5 L327.6,236.0 L330.7,239.6 L333.9,243.1 L337.1,246.6 L340.2,250.2 L343.4,253.7 L346.6,257.2 L349.7,260.7 L352.9,264.2 L356.1,267.6 L359.2,271.1 L362.4,274.5 L365.6,278.0 L368.7,281.4 L371.9,284.8 L375.0,288.2 L378.2,291.5 L381.4,294.9 L384.5,298.2 L387.7,301.6 L390.9,304.9 L394.0,308.2 L397.2,311.4 L400.4,314.7 L403.5,317.9 L406.7,321.2 L409.9,324.4 L413.0,327.5 L416.2,330.7 L419.4,333.8 L422.5,336.9 L425.7,340.0 L428.9,343.1 L432.0,346.1 L435.2,349.2 L438.3,352.2 L441.5,355.2 L444.7,358.1 L447.8,361.0 L451.0,363.9 L454.2,366.8 L457.3,369.7 L460.5,372.5 L463.7,375.3 L466.8,378.0 L470.0,380.8 L473.2,383.5 L476.3,386.2 L479.5,388.8 L482.7,391.4 L485.8,393.9 L489.0,396.4 L492.2,398.9 L495.3,401.3 L498.5,403.7 L501.6,406.0 L504.8,408.3 L508.0,410.5 L511.1,412.7 L514.3,414.8 L517.5,416.9 L520.6,418.9 L523.8,420.8 L527.0,422.7 L530.1,424.5 L533.3,426.2 L536.5,427.9 L539.6,429.5 L542.8,431.1 L546.0,432.6 L549.1,434.0 L552.3,435.4 L555.5,436.7 L558.6,437.9 L561.8,439.1 L564.9,440.2 L568.1,441.2 L571.3,442.1 L574.4,443.0 L577.6,443.9 L580.8,444.6 L583.9,445.3 L587.1,445.9 L590.3,446.5 L593.4,447.0 L596.6,447.4 L599.8,447.8 L602.9,448.0 L606.1,448.2 L609.3,448.4 L612.4,448.4 L615.6,448.4 L618.8,448.4 L621.9,448.2 L625.1,448.0 L628.2,447.6 L631.4,447.3 L634.6,446.8 L637.7,446.2 L640.9,445.6 L644.1,444.9 L647.2,444.1 L650.4,443.3 L653.6,442.3 L656.7,441.3 L659.9,440.1 L663.1,438.9 L666.2,437.4 L669.4,435.9 L672.6,434.1 L675.7,432.2 L678.9,430.1 L682.1,427.8 L685.2,425.3 L688.4,422.6 L691.5,419.7 L694.7,416.6 L697.9,413.4 L701.0,410.1 L704.2,406.7 L707.4,403.3 L710.5,399.8 L713.7,396.2" fill="none" stroke="#3d3d3d" stroke-width="3.6" stroke-linejoin="round"/>
<text x="358.3" y="116.0" font-size="46" text-anchor="start" fill="#000" font-family='"Liberation Sans", sans-serif' >In air</text>
<text x="545.0" y="190.0" font-size="39" text-anchor="start" fill="#000" font-family='"Liberation Sans", sans-serif' >70</text>
<circle cx="608.03" cy="165.33" r="2.68" fill="none" stroke="#333" stroke-width="1.52"/>
<path d="M635.27,167.01 A13.30,13.30 0 1 0 634.94,185.82" fill="none" stroke="#333" stroke-width="1.90"/>
<line x1="635.27" y1="165.51" x2="635.27" y2="169.86" stroke="#333" stroke-width="1.90"/>
<text x="591.0" y="291.5" font-size="39" text-anchor="start" fill="#000" font-family='"Liberation Sans", sans-serif' >5</text>
<circle cx="628.93" cy="266.33" r="2.68" fill="none" stroke="#333" stroke-width="1.52"/>
<path d="M656.17,268.01 A13.30,13.30 0 1 0 655.84,286.82" fill="none" stroke="#333" stroke-width="1.90"/>
<line x1="656.17" y1="266.51" x2="656.17" y2="270.86" stroke="#333" stroke-width="1.90"/>
<text x="549.3" y="392.5" font-size="39" text-anchor="start" fill="#000" font-family='"Liberation Sans", sans-serif' >20</text>
<circle cx="610.33" cy="367.83" r="2.68" fill="none" stroke="#333" stroke-width="1.52"/>
<path d="M637.57,369.51 A13.30,13.30 0 1 0 637.24,388.32" fill="none" stroke="#333" stroke-width="1.90"/>
<line x1="637.57" y1="368.01" x2="637.57" y2="372.36" stroke="#333" stroke-width="1.90"/>
<line x1="572.20" y1="342.40" x2="572.20" y2="220.00" stroke="#404040" stroke-width="4" />
<polygon points="572.2,200.4 565.8,223 578.6,223" fill="#404040"/>
<text transform="translate(72.8,352) rotate(-90)" font-family='"Liberation Sans", sans-serif' font-size="53" fill="#000"><tspan font-style="italic">I</tspan><tspan font-size="34" dy="13.7">ds</tspan><tspan dy="-13.7" xml:space="preserve"> (nA)</tspan></text>
<text x="367" y="646.4" font-family='"Liberation Sans", sans-serif' font-size="52" fill="#000"><tspan font-style="italic">V</tspan><tspan font-size="33" dy="15">gate</tspan><tspan dy="-15" xml:space="preserve"> (V)</tspan></text>
<text transform="translate(798,51.2) scale(1.12,1.03)" font-size="65" font-family='"Liberation Sans", sans-serif'>b</text>
<rect x="944.8" y="33.2" width="566.7" height="488.7" fill="none" stroke="#000" stroke-width="2.5"/>
<line x1="934.30" y1="521.90" x2="944.80" y2="521.90" stroke="#000" stroke-width="2.5" />
<line x1="940.80" y1="463.57" x2="944.80" y2="463.57" stroke="#000" stroke-width="2.5" />
<line x1="934.30" y1="405.25" x2="944.80" y2="405.25" stroke="#000" stroke-width="2.5" />
<line x1="940.80" y1="346.92" x2="944.80" y2="346.92" stroke="#000" stroke-width="2.5" />
<line x1="934.30" y1="288.60" x2="944.80" y2="288.60" stroke="#000" stroke-width="2.5" />
<line x1="940.80" y1="230.27" x2="944.80" y2="230.27" stroke="#000" stroke-width="2.5" />
<line x1="934.30" y1="171.95" x2="944.80" y2="171.95" stroke="#000" stroke-width="2.5" />
<line x1="940.80" y1="113.62" x2="944.80" y2="113.62" stroke="#000" stroke-width="2.5" />
<line x1="934.30" y1="55.30" x2="944.80" y2="55.30" stroke="#000" stroke-width="2.5" />
<text x="924.5" y="535.0" font-size="46" text-anchor="end" fill="#000" font-family='"Liberation Sans", sans-serif' >0</text>
<text x="924.5" y="419.5" font-size="46" text-anchor="end" fill="#000" font-family='"Liberation Sans", sans-serif' >10</text>
<text x="924.5" y="301.6" font-size="46" text-anchor="end" fill="#000" font-family='"Liberation Sans", sans-serif' >20</text>
<text x="924.5" y="184.2" font-size="46" text-anchor="end" fill="#000" font-family='"Liberation Sans", sans-serif' >30</text>
<text x="924.5" y="68.2" font-size="46" text-anchor="end" fill="#000" font-family='"Liberation Sans", sans-serif' >40</text>
<line x1="977.40" y1="521.90" x2="977.40" y2="532.90" stroke="#000" stroke-width="2.5" />
<line x1="1040.20" y1="521.90" x2="1040.20" y2="527.40" stroke="#000" stroke-width="2.5" />
<line x1="1103.00" y1="521.90" x2="1103.00" y2="532.90" stroke="#000" stroke-width="2.5" />
<line x1="1165.80" y1="521.90" x2="1165.80" y2="527.40" stroke="#000" stroke-width="2.5" />
<line x1="1228.60" y1="521.90" x2="1228.60" y2="532.90" stroke="#000" stroke-width="2.5" />
<line x1="1291.40" y1="521.90" x2="1291.40" y2="527.40" stroke="#000" stroke-width="2.5" />
<line x1="1354.20" y1="521.90" x2="1354.20" y2="532.90" stroke="#000" stroke-width="2.5" />
<line x1="1417.00" y1="521.90" x2="1417.00" y2="527.40" stroke="#000" stroke-width="2.5" />
<line x1="1479.80" y1="521.90" x2="1479.80" y2="532.90" stroke="#000" stroke-width="2.5" />
<text x="975.9" y="575.3" font-size="44" text-anchor="middle" fill="#000" font-family='"Liberation Sans", sans-serif' >-20</text>
<text x="1103.0" y="575.3" font-size="44" text-anchor="middle" fill="#000" font-family='"Liberation Sans", sans-serif' >0</text>
<text x="1228.6" y="575.3" font-size="44" text-anchor="middle" fill="#000" font-family='"Liberation Sans", sans-serif' >20</text>
<text x="1354.2" y="575.3" font-size="44" text-anchor="middle" fill="#000" font-family='"Liberation Sans", sans-serif' >40</text>
<text x="1479.8" y="575.3" font-size="44" text-anchor="middle" fill="#000" font-family='"Liberation Sans", sans-serif' >60</text>
<path d="M977.4,479.2 L980.5,479.7 L983.7,480.3 L986.8,480.8 L990.0,481.3 L993.1,481.8 L996.2,482.3 L999.4,482.8 L1002.5,483.3 L1005.7,483.8 L1008.8,484.2 L1011.9,484.6 L1015.1,485.0 L1018.2,485.4 L1021.4,485.8 L1024.5,486.1 L1027.6,486.4 L1030.8,486.7 L1033.9,486.9 L1037.1,487.1 L1040.2,487.3 L1043.3,487.4 L1046.5,487.5 L1049.6,487.5 L1052.8,487.5 L1055.9,487.5 L1059.0,487.4 L1062.2,487.3 L1065.3,487.2 L1068.5,487.1 L1071.6,486.9 L1074.7,486.7 L1077.9,486.5 L1081.0,486.2 L1084.2,485.9 L1087.3,485.6 L1090.4,485.3 L1093.6,485.0 L1096.7,484.6 L1099.9,484.3 L1103.0,483.9 L1106.1,483.5 L1109.3,483.0 L1112.4,482.6 L1115.6,482.2 L1118.7,481.7 L1121.8,481.2 L1125.0,480.7 L1128.1,480.2 L1131.3,479.6 L1134.4,479.1 L1137.5,478.5 L1140.7,477.9 L1143.8,477.3 L1147.0,476.6 L1150.1,476.0 L1153.2,475.3 L1156.4,474.6 L1159.5,473.8 L1162.7,473.0 L1165.8,472.3 L1168.9,471.4 L1172.1,470.6 L1175.2,469.7 L1178.4,468.8 L1181.5,467.9 L1184.6,466.9 L1187.8,465.9 L1190.9,464.9 L1194.1,463.9 L1197.2,462.8 L1200.3,461.7 L1203.5,460.5 L1206.6,459.3 L1209.8,458.1 L1212.9,456.9 L1216.0,455.6 L1219.2,454.2 L1222.3,452.9 L1225.5,451.5 L1228.6,450.0 L1231.7,448.6 L1234.9,447.1 L1238.0,445.5 L1241.2,443.9 L1244.3,442.3 L1247.4,440.7 L1250.6,439.0 L1253.7,437.3 L1256.9,435.5 L1260.0,433.8 L1263.1,432.0 L1266.3,430.2 L1269.4,428.3 L1272.6,426.5 L1275.7,424.6 L1278.8,422.7 L1282.0,420.8 L1285.1,418.8 L1288.3,416.9 L1291.4,414.9 L1294.5,412.9 L1297.7,410.9 L1300.8,408.9 L1304.0,406.9 L1307.1,404.9 L1310.2,402.9 L1313.4,400.8 L1316.5,398.8 L1319.7,396.8 L1322.8,394.7 L1325.9,392.7 L1329.1,390.6 L1332.2,388.6 L1335.4,386.5 L1338.5,384.5 L1341.6,382.5 L1344.8,380.5 L1347.9,378.4 L1351.1,376.4 L1354.2,374.5 L1357.3,372.5 L1360.5,370.5 L1363.6,368.5 L1366.8,366.6 L1369.9,364.7 L1373.0,362.7 L1376.2,360.8 L1379.3,358.9 L1382.5,357.0 L1385.6,355.1 L1388.7,353.3 L1391.9,351.4 L1395.0,349.5 L1398.2,347.7 L1401.3,345.8 L1404.4,344.0 L1407.6,342.2 L1410.7,340.4 L1413.9,338.5 L1417.0,336.7 L1420.1,334.9 L1423.3,333.1 L1426.4,331.3 L1429.6,329.6 L1432.7,327.8 L1435.8,326.0 L1439.0,324.2 L1442.1,322.5 L1445.3,320.7 L1448.4,318.9 L1451.5,317.2 L1454.7,315.4 L1457.8,313.7 L1461.0,311.9 L1464.1,310.2 L1467.2,308.4 L1470.4,306.7 L1473.5,304.9 L1476.7,303.2 L1479.8,301.4" fill="none" stroke="#d5e8f5" stroke-width="3.3" stroke-linejoin="round"/>
<path d="M977.4,474.0 L980.5,474.5 L983.7,475.0 L986.8,475.5 L990.0,476.0 L993.1,476.4 L996.2,476.9 L999.4,477.4 L1002.5,477.9 L1005.7,478.3 L1008.8,478.7 L1011.9,479.2 L1015.1,479.6 L1018.2,479.9 L1021.4,480.3 L1024.5,480.6 L1027.6,480.9 L1030.8,481.2 L1033.9,481.5 L1037.1,481.7 L1040.2,481.9 L1043.3,482.1 L1046.5,482.2 L1049.6,482.3 L1052.8,482.3 L1055.9,482.4 L1059.0,482.4 L1062.2,482.4 L1065.3,482.3 L1068.5,482.2 L1071.6,482.1 L1074.7,481.9 L1077.9,481.8 L1081.0,481.6 L1084.2,481.3 L1087.3,481.1 L1090.4,480.8 L1093.6,480.5 L1096.7,480.1 L1099.9,479.7 L1103.0,479.3 L1106.1,478.9 L1109.3,478.4 L1112.4,478.0 L1115.6,477.4 L1118.7,476.9 L1121.8,476.3 L1125.0,475.7 L1128.1,475.1 L1131.3,474.5 L1134.4,473.8 L1137.5,473.1 L1140.7,472.4 L1143.8,471.6 L1147.0,470.8 L1150.1,470.0 L1153.2,469.1 L1156.4,468.3 L1159.5,467.4 L1162.7,466.4 L1165.8,465.5 L1168.9,464.5 L1172.1,463.5 L1175.2,462.4 L1178.4,461.3 L1181.5,460.2 L1184.6,459.1 L1187.8,457.9 L1190.9,456.7 L1194.1,455.5 L1197.2,454.2 L1200.3,453.0 L1203.5,451.6 L1206.6,450.3 L1209.8,448.9 L1212.9,447.5 L1216.0,446.1 L1219.2,444.6 L1222.3,443.1 L1225.5,441.6 L1228.6,440.0 L1231.7,438.4 L1234.9,436.8 L1238.0,435.1 L1241.2,433.5 L1244.3,431.8 L1247.4,430.0 L1250.6,428.3 L1253.7,426.5 L1256.9,424.7 L1260.0,422.8 L1263.1,421.0 L1266.3,419.1 L1269.4,417.2 L1272.6,415.3 L1275.7,413.3 L1278.8,411.4 L1282.0,409.4 L1285.1,407.4 L1288.3,405.4 L1291.4,403.4 L1294.5,401.3 L1297.7,399.3 L1300.8,397.2 L1304.0,395.1 L1307.1,393.0 L1310.2,390.9 L1313.4,388.8 L1316.5,386.7 L1319.7,384.6 L1322.8,382.5 L1325.9,380.3 L1329.1,378.2 L1332.2,376.0 L1335.4,373.9 L1338.5,371.7 L1341.6,369.6 L1344.8,367.4 L1347.9,365.2 L1351.1,363.1 L1354.2,360.9 L1357.3,358.8 L1360.5,356.6 L1363.6,354.5 L1366.8,352.3 L1369.9,350.2 L1373.0,348.0 L1376.2,345.9 L1379.3,343.7 L1382.5,341.6 L1385.6,339.5 L1388.7,337.3 L1391.9,335.2 L1395.0,333.0 L1398.2,330.9 L1401.3,328.8 L1404.4,326.6 L1407.6,324.5 L1410.7,322.4 L1413.9,320.3 L1417.0,318.1 L1420.1,316.0 L1423.3,313.9 L1426.4,311.8 L1429.6,309.6 L1432.7,307.5 L1435.8,305.4 L1439.0,303.3 L1442.1,301.2 L1445.3,299.0 L1448.4,296.9 L1451.5,294.8 L1454.7,292.7 L1457.8,290.6 L1461.0,288.5 L1464.1,286.3 L1467.2,284.2 L1470.4,282.1 L1473.5,280.0 L1476.7,277.9 L1479.8,275.8" fill="none" stroke="#c2ddf1" stroke-width="3.3" stroke-linejoin="round"/>
<path d="M977.4,469.5 L980.5,470.0 L983.7,470.5 L986.8,471.1 L990.0,471.6 L993.1,472.1 L996.2,472.5 L999.4,473.0 L1002.5,473.5 L1005.7,473.9 L1008.8,474.4 L1011.9,474.8 L1015.1,475.2 L1018.2,475.6 L1021.4,476.0 L1024.5,476.3 L1027.6,476.6 L1030.8,476.9 L1033.9,477.1 L1037.1,477.4 L1040.2,477.6 L1043.3,477.7 L1046.5,477.9 L1049.6,478.0 L1052.8,478.0 L1055.9,478.1 L1059.0,478.1 L1062.2,478.0 L1065.3,478.0 L1068.5,477.9 L1071.6,477.7 L1074.7,477.6 L1077.9,477.4 L1081.0,477.2 L1084.2,476.9 L1087.3,476.6 L1090.4,476.3 L1093.6,476.0 L1096.7,475.6 L1099.9,475.2 L1103.0,474.8 L1106.1,474.3 L1109.3,473.8 L1112.4,473.3 L1115.6,472.7 L1118.7,472.2 L1121.8,471.6 L1125.0,470.9 L1128.1,470.2 L1131.3,469.5 L1134.4,468.8 L1137.5,468.1 L1140.7,467.3 L1143.8,466.5 L1147.0,465.6 L1150.1,464.7 L1153.2,463.8 L1156.4,462.9 L1159.5,461.9 L1162.7,460.9 L1165.8,459.9 L1168.9,458.9 L1172.1,457.8 L1175.2,456.7 L1178.4,455.5 L1181.5,454.4 L1184.6,453.2 L1187.8,451.9 L1190.9,450.7 L1194.1,449.4 L1197.2,448.1 L1200.3,446.7 L1203.5,445.3 L1206.6,443.9 L1209.8,442.5 L1212.9,441.0 L1216.0,439.5 L1219.2,438.0 L1222.3,436.4 L1225.5,434.9 L1228.6,433.2 L1231.7,431.6 L1234.9,429.9 L1238.0,428.2 L1241.2,426.5 L1244.3,424.7 L1247.4,423.0 L1250.6,421.2 L1253.7,419.3 L1256.9,417.5 L1260.0,415.6 L1263.1,413.7 L1266.3,411.8 L1269.4,409.8 L1272.6,407.9 L1275.7,405.9 L1278.8,403.9 L1282.0,401.8 L1285.1,399.8 L1288.3,397.7 L1291.4,395.7 L1294.5,393.6 L1297.7,391.5 L1300.8,389.4 L1304.0,387.2 L1307.1,385.1 L1310.2,382.9 L1313.4,380.8 L1316.5,378.6 L1319.7,376.4 L1322.8,374.2 L1325.9,372.0 L1329.1,369.8 L1332.2,367.5 L1335.4,365.3 L1338.5,363.1 L1341.6,360.8 L1344.8,358.6 L1347.9,356.3 L1351.1,354.1 L1354.2,351.8 L1357.3,349.6 L1360.5,347.3 L1363.6,345.0 L1366.8,342.8 L1369.9,340.5 L1373.0,338.3 L1376.2,336.0 L1379.3,333.7 L1382.5,331.4 L1385.6,329.2 L1388.7,326.9 L1391.9,324.6 L1395.0,322.4 L1398.2,320.1 L1401.3,317.8 L1404.4,315.5 L1407.6,313.2 L1410.7,311.0 L1413.9,308.7 L1417.0,306.4 L1420.1,304.1 L1423.3,301.8 L1426.4,299.5 L1429.6,297.3 L1432.7,295.0 L1435.8,292.7 L1439.0,290.4 L1442.1,288.1 L1445.3,285.8 L1448.4,283.5 L1451.5,281.2 L1454.7,278.9 L1457.8,276.6 L1461.0,274.4 L1464.1,272.1 L1467.2,269.8 L1470.4,267.5 L1473.5,265.2 L1476.7,262.9 L1479.8,260.6" fill="none" stroke="#b6d7ee" stroke-width="3.3" stroke-linejoin="round"/>
<path d="M977.4,458.0 L980.5,458.8 L983.7,459.6 L986.8,460.4 L990.0,461.2 L993.1,461.9 L996.2,462.7 L999.4,463.5 L1002.5,464.2 L1005.7,464.9 L1008.8,465.6 L1011.9,466.2 L1015.1,466.9 L1018.2,467.5 L1021.4,468.0 L1024.5,468.6 L1027.6,469.1 L1030.8,469.5 L1033.9,469.9 L1037.1,470.3 L1040.2,470.6 L1043.3,470.8 L1046.5,471.0 L1049.6,471.2 L1052.8,471.3 L1055.9,471.4 L1059.0,471.4 L1062.2,471.3 L1065.3,471.3 L1068.5,471.2 L1071.6,471.0 L1074.7,470.8 L1077.9,470.6 L1081.0,470.3 L1084.2,470.0 L1087.3,469.7 L1090.4,469.3 L1093.6,468.9 L1096.7,468.5 L1099.9,468.0 L1103.0,467.5 L1106.1,467.0 L1109.3,466.5 L1112.4,465.9 L1115.6,465.3 L1118.7,464.7 L1121.8,464.1 L1125.0,463.4 L1128.1,462.7 L1131.3,462.0 L1134.4,461.2 L1137.5,460.4 L1140.7,459.6 L1143.8,458.8 L1147.0,457.9 L1150.1,457.0 L1153.2,456.1 L1156.4,455.2 L1159.5,454.2 L1162.7,453.2 L1165.8,452.2 L1168.9,451.1 L1172.1,450.0 L1175.2,448.9 L1178.4,447.7 L1181.5,446.5 L1184.6,445.3 L1187.8,444.1 L1190.9,442.8 L1194.1,441.5 L1197.2,440.2 L1200.3,438.8 L1203.5,437.4 L1206.6,436.0 L1209.8,434.5 L1212.9,433.0 L1216.0,431.5 L1219.2,429.9 L1222.3,428.3 L1225.5,426.7 L1228.6,425.1 L1231.7,423.4 L1234.9,421.7 L1238.0,419.9 L1241.2,418.2 L1244.3,416.4 L1247.4,414.5 L1250.6,412.7 L1253.7,410.8 L1256.9,408.9 L1260.0,406.9 L1263.1,405.0 L1266.3,403.0 L1269.4,400.9 L1272.6,398.9 L1275.7,396.9 L1278.8,394.8 L1282.0,392.7 L1285.1,390.6 L1288.3,388.4 L1291.4,386.3 L1294.5,384.1 L1297.7,381.9 L1300.8,379.7 L1304.0,377.5 L1307.1,375.2 L1310.2,373.0 L1313.4,370.7 L1316.5,368.5 L1319.7,366.2 L1322.8,363.9 L1325.9,361.6 L1329.1,359.3 L1332.2,356.9 L1335.4,354.6 L1338.5,352.3 L1341.6,349.9 L1344.8,347.6 L1347.9,345.2 L1351.1,342.9 L1354.2,340.5 L1357.3,338.1 L1360.5,335.8 L1363.6,333.4 L1366.8,331.0 L1369.9,328.7 L1373.0,326.3 L1376.2,323.9 L1379.3,321.6 L1382.5,319.2 L1385.6,316.8 L1388.7,314.4 L1391.9,312.0 L1395.0,309.6 L1398.2,307.3 L1401.3,304.9 L1404.4,302.5 L1407.6,300.1 L1410.7,297.7 L1413.9,295.3 L1417.0,292.9 L1420.1,290.5 L1423.3,288.1 L1426.4,285.7 L1429.6,283.3 L1432.7,280.9 L1435.8,278.5 L1439.0,276.1 L1442.1,273.7 L1445.3,271.3 L1448.4,268.9 L1451.5,266.5 L1454.7,264.1 L1457.8,261.7 L1461.0,259.3 L1464.1,256.9 L1467.2,254.5 L1470.4,252.1 L1473.5,249.7 L1476.7,247.3 L1479.8,244.9" fill="none" stroke="#a9cfe8" stroke-width="3.3" stroke-linejoin="round"/>
<path d="M977.4,451.0 L980.5,451.9 L983.7,452.8 L986.8,453.8 L990.0,454.7 L993.1,455.6 L996.2,456.4 L999.4,457.3 L1002.5,458.1 L1005.7,458.9 L1008.8,459.7 L1011.9,460.5 L1015.1,461.2 L1018.2,461.8 L1021.4,462.4 L1024.5,463.0 L1027.6,463.5 L1030.8,464.0 L1033.9,464.4 L1037.1,464.7 L1040.2,465.0 L1043.3,465.2 L1046.5,465.3 L1049.6,465.4 L1052.8,465.4 L1055.9,465.3 L1059.0,465.2 L1062.2,465.0 L1065.3,464.8 L1068.5,464.5 L1071.6,464.2 L1074.7,463.8 L1077.9,463.3 L1081.0,462.9 L1084.2,462.4 L1087.3,461.8 L1090.4,461.2 L1093.6,460.6 L1096.7,459.9 L1099.9,459.2 L1103.0,458.4 L1106.1,457.7 L1109.3,456.9 L1112.4,456.1 L1115.6,455.2 L1118.7,454.3 L1121.8,453.4 L1125.0,452.5 L1128.1,451.5 L1131.3,450.5 L1134.4,449.5 L1137.5,448.5 L1140.7,447.4 L1143.8,446.3 L1147.0,445.1 L1150.1,444.0 L1153.2,442.8 L1156.4,441.5 L1159.5,440.3 L1162.7,439.0 L1165.8,437.7 L1168.9,436.3 L1172.1,435.0 L1175.2,433.6 L1178.4,432.1 L1181.5,430.7 L1184.6,429.2 L1187.8,427.6 L1190.9,426.1 L1194.1,424.5 L1197.2,422.9 L1200.3,421.2 L1203.5,419.5 L1206.6,417.8 L1209.8,416.1 L1212.9,414.3 L1216.0,412.5 L1219.2,410.7 L1222.3,408.8 L1225.5,406.9 L1228.6,405.0 L1231.7,403.1 L1234.9,401.1 L1238.0,399.1 L1241.2,397.0 L1244.3,394.9 L1247.4,392.8 L1250.6,390.7 L1253.7,388.5 L1256.9,386.4 L1260.0,384.2 L1263.1,381.9 L1266.3,379.7 L1269.4,377.4 L1272.6,375.1 L1275.7,372.7 L1278.8,370.4 L1282.0,368.0 L1285.1,365.6 L1288.3,363.2 L1291.4,360.7 L1294.5,358.3 L1297.7,355.8 L1300.8,353.3 L1304.0,350.8 L1307.1,348.3 L1310.2,345.7 L1313.4,343.1 L1316.5,340.6 L1319.7,338.0 L1322.8,335.4 L1325.9,332.7 L1329.1,330.1 L1332.2,327.4 L1335.4,324.8 L1338.5,322.1 L1341.6,319.4 L1344.8,316.7 L1347.9,314.0 L1351.1,311.3 L1354.2,308.5 L1357.3,305.8 L1360.5,303.1 L1363.6,300.3 L1366.8,297.6 L1369.9,294.8 L1373.0,292.0 L1376.2,289.2 L1379.3,286.4 L1382.5,283.6 L1385.6,280.8 L1388.7,278.0 L1391.9,275.2 L1395.0,272.4 L1398.2,269.6 L1401.3,266.7 L1404.4,263.9 L1407.6,261.0 L1410.7,258.2 L1413.9,255.3 L1417.0,252.5 L1420.1,249.6 L1423.3,246.7 L1426.4,243.9 L1429.6,241.0 L1432.7,238.1 L1435.8,235.2 L1439.0,232.4 L1442.1,229.5 L1445.3,226.6 L1448.4,223.7 L1451.5,220.8 L1454.7,217.9 L1457.8,215.0 L1461.0,212.1 L1464.1,209.2 L1467.2,206.3 L1470.4,203.4 L1473.5,200.5 L1476.7,197.6 L1479.8,194.7" fill="none" stroke="#84bde6" stroke-width="3.3" stroke-linejoin="round"/>
<path d="M977.4,446.5 L980.5,447.5 L983.7,448.5 L986.8,449.5 L990.0,450.5 L993.1,451.4 L996.2,452.4 L999.4,453.3 L1002.5,454.1 L1005.7,455.0 L1008.8,455.8 L1011.9,456.6 L1015.1,457.3 L1018.2,458.0 L1021.4,458.7 L1024.5,459.2 L1027.6,459.8 L1030.8,460.2 L1033.9,460.6 L1037.1,461.0 L1040.2,461.2 L1043.3,461.4 L1046.5,461.5 L1049.6,461.6 L1052.8,461.5 L1055.9,461.4 L1059.0,461.3 L1062.2,461.0 L1065.3,460.7 L1068.5,460.4 L1071.6,459.9 L1074.7,459.5 L1077.9,458.9 L1081.0,458.3 L1084.2,457.7 L1087.3,457.0 L1090.4,456.3 L1093.6,455.5 L1096.7,454.6 L1099.9,453.8 L1103.0,452.8 L1106.1,451.9 L1109.3,450.9 L1112.4,449.9 L1115.6,448.8 L1118.7,447.7 L1121.8,446.5 L1125.0,445.3 L1128.1,444.1 L1131.3,442.9 L1134.4,441.6 L1137.5,440.2 L1140.7,438.9 L1143.8,437.5 L1147.0,436.0 L1150.1,434.5 L1153.2,433.0 L1156.4,431.5 L1159.5,429.9 L1162.7,428.3 L1165.8,426.6 L1168.9,424.9 L1172.1,423.2 L1175.2,421.5 L1178.4,419.7 L1181.5,417.8 L1184.6,416.0 L1187.8,414.1 L1190.9,412.2 L1194.1,410.2 L1197.2,408.2 L1200.3,406.2 L1203.5,404.2 L1206.6,402.1 L1209.8,400.0 L1212.9,397.9 L1216.0,395.7 L1219.2,393.5 L1222.3,391.3 L1225.5,389.0 L1228.6,386.7 L1231.7,384.4 L1234.9,382.0 L1238.0,379.7 L1241.2,377.3 L1244.3,374.8 L1247.4,372.4 L1250.6,369.9 L1253.7,367.4 L1256.9,364.8 L1260.0,362.3 L1263.1,359.7 L1266.3,357.1 L1269.4,354.5 L1272.6,351.8 L1275.7,349.1 L1278.8,346.5 L1282.0,343.7 L1285.1,341.0 L1288.3,338.3 L1291.4,335.5 L1294.5,332.7 L1297.7,329.9 L1300.8,327.1 L1304.0,324.2 L1307.1,321.4 L1310.2,318.5 L1313.4,315.6 L1316.5,312.7 L1319.7,309.8 L1322.8,306.8 L1325.9,303.9 L1329.1,301.0 L1332.2,298.0 L1335.4,295.0 L1338.5,292.0 L1341.6,289.0 L1344.8,286.0 L1347.9,283.0 L1351.1,280.0 L1354.2,276.9 L1357.3,273.9 L1360.5,270.8 L1363.6,267.8 L1366.8,264.7 L1369.9,261.7 L1373.0,258.6 L1376.2,255.5 L1379.3,252.4 L1382.5,249.3 L1385.6,246.2 L1388.7,243.1 L1391.9,240.0 L1395.0,236.9 L1398.2,233.8 L1401.3,230.7 L1404.4,227.5 L1407.6,224.4 L1410.7,221.3 L1413.9,218.1 L1417.0,215.0 L1420.1,211.8 L1423.3,208.7 L1426.4,205.5 L1429.6,202.4 L1432.7,199.2 L1435.8,196.0 L1439.0,192.9 L1442.1,189.7 L1445.3,186.5 L1448.4,183.3 L1451.5,180.2 L1454.7,177.0 L1457.8,173.8 L1461.0,170.6 L1464.1,167.5 L1467.2,164.3 L1470.4,161.1 L1473.5,157.9 L1476.7,154.7 L1479.8,151.5" fill="none" stroke="#4aa2e2" stroke-width="3.3" stroke-linejoin="round"/>
<path d="M977.4,433.2 L980.5,434.2 L983.7,435.1 L986.8,436.1 L990.0,437.0 L993.1,437.9 L996.2,438.8 L999.4,439.7 L1002.5,440.5 L1005.7,441.3 L1008.8,442.1 L1011.9,442.9 L1015.1,443.6 L1018.2,444.3 L1021.4,445.0 L1024.5,445.6 L1027.6,446.2 L1030.8,446.7 L1033.9,447.2 L1037.1,447.6 L1040.2,447.9 L1043.3,448.2 L1046.5,448.5 L1049.6,448.6 L1052.8,448.8 L1055.9,448.8 L1059.0,448.8 L1062.2,448.7 L1065.3,448.6 L1068.5,448.4 L1071.6,448.2 L1074.7,447.9 L1077.9,447.6 L1081.0,447.2 L1084.2,446.7 L1087.3,446.2 L1090.4,445.7 L1093.6,445.1 L1096.7,444.4 L1099.9,443.7 L1103.0,442.9 L1106.1,442.1 L1109.3,441.3 L1112.4,440.4 L1115.6,439.4 L1118.7,438.4 L1121.8,437.4 L1125.0,436.3 L1128.1,435.1 L1131.3,434.0 L1134.4,432.7 L1137.5,431.5 L1140.7,430.2 L1143.8,428.8 L1147.0,427.4 L1150.1,426.0 L1153.2,424.5 L1156.4,423.0 L1159.5,421.4 L1162.7,419.8 L1165.8,418.2 L1168.9,416.5 L1172.1,414.8 L1175.2,413.1 L1178.4,411.3 L1181.5,409.5 L1184.6,407.6 L1187.8,405.7 L1190.9,403.8 L1194.1,401.9 L1197.2,399.9 L1200.3,397.9 L1203.5,395.8 L1206.6,393.7 L1209.8,391.6 L1212.9,389.5 L1216.0,387.3 L1219.2,385.1 L1222.3,382.9 L1225.5,380.6 L1228.6,378.3 L1231.7,376.0 L1234.9,373.6 L1238.0,371.3 L1241.2,368.9 L1244.3,366.5 L1247.4,364.0 L1250.6,361.6 L1253.7,359.1 L1256.9,356.5 L1260.0,354.0 L1263.1,351.4 L1266.3,348.8 L1269.4,346.2 L1272.6,343.6 L1275.7,340.9 L1278.8,338.2 L1282.0,335.5 L1285.1,332.8 L1288.3,330.0 L1291.4,327.3 L1294.5,324.5 L1297.7,321.7 L1300.8,318.8 L1304.0,316.0 L1307.1,313.1 L1310.2,310.2 L1313.4,307.3 L1316.5,304.3 L1319.7,301.4 L1322.8,298.4 L1325.9,295.4 L1329.1,292.4 L1332.2,289.3 L1335.4,286.3 L1338.5,283.2 L1341.6,280.1 L1344.8,277.0 L1347.9,273.9 L1351.1,270.8 L1354.2,267.6 L1357.3,264.4 L1360.5,261.2 L1363.6,258.0 L1366.8,254.8 L1369.9,251.6 L1373.0,248.3 L1376.2,245.1 L1379.3,241.8 L1382.5,238.5 L1385.6,235.2 L1388.7,231.9 L1391.9,228.6 L1395.0,225.2 L1398.2,221.9 L1401.3,218.5 L1404.4,215.2 L1407.6,211.8 L1410.7,208.4 L1413.9,205.0 L1417.0,201.6 L1420.1,198.2 L1423.3,194.7 L1426.4,191.3 L1429.6,187.9 L1432.7,184.4 L1435.8,181.0 L1439.0,177.5 L1442.1,174.1 L1445.3,170.6 L1448.4,167.1 L1451.5,163.7 L1454.7,160.2 L1457.8,156.7 L1461.0,153.2 L1464.1,149.7 L1467.2,146.3 L1470.4,142.8 L1473.5,139.3 L1476.7,135.8 L1479.8,132.3" fill="none" stroke="#3a86c2" stroke-width="3.3" stroke-linejoin="round"/>
<path d="M977.4,428.9 L980.5,430.0 L983.7,431.0 L986.8,432.0 L990.0,433.1 L993.1,434.1 L996.2,435.0 L999.4,436.0 L1002.5,436.9 L1005.7,437.8 L1008.8,438.7 L1011.9,439.5 L1015.1,440.3 L1018.2,441.0 L1021.4,441.6 L1024.5,442.3 L1027.6,442.8 L1030.8,443.3 L1033.9,443.7 L1037.1,444.1 L1040.2,444.3 L1043.3,444.5 L1046.5,444.6 L1049.6,444.7 L1052.8,444.6 L1055.9,444.5 L1059.0,444.3 L1062.2,444.1 L1065.3,443.7 L1068.5,443.4 L1071.6,442.9 L1074.7,442.4 L1077.9,441.8 L1081.0,441.2 L1084.2,440.6 L1087.3,439.8 L1090.4,439.1 L1093.6,438.3 L1096.7,437.4 L1099.9,436.5 L1103.0,435.6 L1106.1,434.6 L1109.3,433.6 L1112.4,432.6 L1115.6,431.5 L1118.7,430.4 L1121.8,429.2 L1125.0,428.0 L1128.1,426.8 L1131.3,425.5 L1134.4,424.2 L1137.5,422.9 L1140.7,421.5 L1143.8,420.1 L1147.0,418.7 L1150.1,417.2 L1153.2,415.7 L1156.4,414.2 L1159.5,412.6 L1162.7,411.0 L1165.8,409.4 L1168.9,407.7 L1172.1,406.0 L1175.2,404.3 L1178.4,402.5 L1181.5,400.7 L1184.6,398.9 L1187.8,397.0 L1190.9,395.1 L1194.1,393.2 L1197.2,391.3 L1200.3,389.3 L1203.5,387.3 L1206.6,385.2 L1209.8,383.1 L1212.9,381.0 L1216.0,378.9 L1219.2,376.7 L1222.3,374.5 L1225.5,372.3 L1228.6,370.0 L1231.7,367.7 L1234.9,365.4 L1238.0,363.1 L1241.2,360.7 L1244.3,358.3 L1247.4,355.9 L1250.6,353.4 L1253.7,350.9 L1256.9,348.4 L1260.0,345.9 L1263.1,343.3 L1266.3,340.7 L1269.4,338.1 L1272.6,335.5 L1275.7,332.8 L1278.8,330.1 L1282.0,327.4 L1285.1,324.7 L1288.3,321.9 L1291.4,319.1 L1294.5,316.3 L1297.7,313.5 L1300.8,310.6 L1304.0,307.7 L1307.1,304.8 L1310.2,301.9 L1313.4,298.9 L1316.5,295.9 L1319.7,292.9 L1322.8,289.9 L1325.9,286.9 L1329.1,283.8 L1332.2,280.7 L1335.4,277.6 L1338.5,274.5 L1341.6,271.4 L1344.8,268.2 L1347.9,265.0 L1351.1,261.8 L1354.2,258.6 L1357.3,255.4 L1360.5,252.1 L1363.6,248.9 L1366.8,245.6 L1369.9,242.3 L1373.0,238.9 L1376.2,235.6 L1379.3,232.2 L1382.5,228.9 L1385.6,225.5 L1388.7,222.1 L1391.9,218.7 L1395.0,215.2 L1398.2,211.8 L1401.3,208.3 L1404.4,204.9 L1407.6,201.4 L1410.7,197.9 L1413.9,194.4 L1417.0,190.9 L1420.1,187.4 L1423.3,183.9 L1426.4,180.3 L1429.6,176.8 L1432.7,173.3 L1435.8,169.7 L1439.0,166.1 L1442.1,162.6 L1445.3,159.0 L1448.4,155.4 L1451.5,151.8 L1454.7,148.3 L1457.8,144.7 L1461.0,141.1 L1464.1,137.5 L1467.2,133.9 L1470.4,130.3 L1473.5,126.7 L1476.7,123.1 L1479.8,119.5" fill="none" stroke="#2a6088" stroke-width="3.3" stroke-linejoin="round"/>
<path d="M977.4,419.2 L980.5,420.3 L983.7,421.3 L986.8,422.4 L990.0,423.4 L993.1,424.4 L996.2,425.3 L999.4,426.3 L1002.5,427.2 L1005.7,428.1 L1008.8,429.0 L1011.9,429.8 L1015.1,430.5 L1018.2,431.2 L1021.4,431.9 L1024.5,432.5 L1027.6,433.0 L1030.8,433.5 L1033.9,433.9 L1037.1,434.2 L1040.2,434.4 L1043.3,434.6 L1046.5,434.6 L1049.6,434.6 L1052.8,434.5 L1055.9,434.4 L1059.0,434.1 L1062.2,433.8 L1065.3,433.4 L1068.5,433.0 L1071.6,432.5 L1074.7,431.9 L1077.9,431.3 L1081.0,430.7 L1084.2,429.9 L1087.3,429.2 L1090.4,428.3 L1093.6,427.5 L1096.7,426.6 L1099.9,425.6 L1103.0,424.6 L1106.1,423.6 L1109.3,422.5 L1112.4,421.4 L1115.6,420.3 L1118.7,419.2 L1121.8,418.0 L1125.0,416.7 L1128.1,415.5 L1131.3,414.2 L1134.4,412.8 L1137.5,411.5 L1140.7,410.1 L1143.8,408.6 L1147.0,407.1 L1150.1,405.6 L1153.2,404.1 L1156.4,402.5 L1159.5,400.9 L1162.7,399.3 L1165.8,397.6 L1168.9,395.9 L1172.1,394.1 L1175.2,392.3 L1178.4,390.5 L1181.5,388.7 L1184.6,386.8 L1187.8,384.8 L1190.9,382.9 L1194.1,380.9 L1197.2,378.9 L1200.3,376.8 L1203.5,374.7 L1206.6,372.6 L1209.8,370.4 L1212.9,368.2 L1216.0,366.0 L1219.2,363.7 L1222.3,361.4 L1225.5,359.1 L1228.6,356.7 L1231.7,354.3 L1234.9,351.9 L1238.0,349.4 L1241.2,346.9 L1244.3,344.4 L1247.4,341.8 L1250.6,339.2 L1253.7,336.6 L1256.9,333.9 L1260.0,331.2 L1263.1,328.5 L1266.3,325.7 L1269.4,323.0 L1272.6,320.1 L1275.7,317.3 L1278.8,314.4 L1282.0,311.5 L1285.1,308.6 L1288.3,305.7 L1291.4,302.7 L1294.5,299.7 L1297.7,296.7 L1300.8,293.6 L1304.0,290.5 L1307.1,287.4 L1310.2,284.3 L1313.4,281.1 L1316.5,278.0 L1319.7,274.8 L1322.8,271.5 L1325.9,268.3 L1329.1,265.0 L1332.2,261.8 L1335.4,258.5 L1338.5,255.1 L1341.6,251.8 L1344.8,248.4 L1347.9,245.0 L1351.1,241.6 L1354.2,238.2 L1357.3,234.8 L1360.5,231.3 L1363.6,227.8 L1366.8,224.3 L1369.9,220.8 L1373.0,217.3 L1376.2,213.8 L1379.3,210.2 L1382.5,206.7 L1385.6,203.1 L1388.7,199.5 L1391.9,195.9 L1395.0,192.3 L1398.2,188.6 L1401.3,185.0 L1404.4,181.3 L1407.6,177.7 L1410.7,174.0 L1413.9,170.3 L1417.0,166.6 L1420.1,162.9 L1423.3,159.2 L1426.4,155.5 L1429.6,151.8 L1432.7,148.0 L1435.8,144.3 L1439.0,140.5 L1442.1,136.8 L1445.3,133.0 L1448.4,129.3 L1451.5,125.5 L1454.7,121.7 L1457.8,118.0 L1461.0,114.2 L1464.1,110.4 L1467.2,106.6 L1470.4,102.8 L1473.5,99.0 L1476.7,95.2 L1479.8,91.5" fill="none" stroke="#154a78" stroke-width="3.3" stroke-linejoin="round"/>
<path d="M977.4,416.9 L980.5,417.9 L983.7,418.8 L986.8,419.7 L990.0,420.6 L993.1,421.5 L996.2,422.4 L999.4,423.3 L1002.5,424.1 L1005.7,424.9 L1008.8,425.6 L1011.9,426.3 L1015.1,427.0 L1018.2,427.6 L1021.4,428.2 L1024.5,428.7 L1027.6,429.1 L1030.8,429.5 L1033.9,429.8 L1037.1,430.1 L1040.2,430.2 L1043.3,430.3 L1046.5,430.3 L1049.6,430.2 L1052.8,430.0 L1055.9,429.8 L1059.0,429.5 L1062.2,429.1 L1065.3,428.6 L1068.5,428.1 L1071.6,427.5 L1074.7,426.9 L1077.9,426.2 L1081.0,425.4 L1084.2,424.5 L1087.3,423.6 L1090.4,422.7 L1093.6,421.7 L1096.7,420.6 L1099.9,419.5 L1103.0,418.3 L1106.1,417.1 L1109.3,415.8 L1112.4,414.5 L1115.6,413.2 L1118.7,411.8 L1121.8,410.3 L1125.0,408.8 L1128.1,407.3 L1131.3,405.7 L1134.4,404.1 L1137.5,402.4 L1140.7,400.7 L1143.8,399.0 L1147.0,397.2 L1150.1,395.3 L1153.2,393.5 L1156.4,391.6 L1159.5,389.7 L1162.7,387.7 L1165.8,385.7 L1168.9,383.6 L1172.1,381.6 L1175.2,379.4 L1178.4,377.3 L1181.5,375.1 L1184.6,372.9 L1187.8,370.7 L1190.9,368.4 L1194.1,366.1 L1197.2,363.8 L1200.3,361.5 L1203.5,359.1 L1206.6,356.7 L1209.8,354.3 L1212.9,351.8 L1216.0,349.4 L1219.2,346.9 L1222.3,344.3 L1225.5,341.8 L1228.6,339.2 L1231.7,336.6 L1234.9,334.0 L1238.0,331.4 L1241.2,328.8 L1244.3,326.1 L1247.4,323.4 L1250.6,320.7 L1253.7,318.0 L1256.9,315.2 L1260.0,312.4 L1263.1,309.6 L1266.3,306.8 L1269.4,304.0 L1272.6,301.1 L1275.7,298.2 L1278.8,295.3 L1282.0,292.3 L1285.1,289.4 L1288.3,286.4 L1291.4,283.4 L1294.5,280.3 L1297.7,277.3 L1300.8,274.2 L1304.0,271.1 L1307.1,267.9 L1310.2,264.8 L1313.4,261.6 L1316.5,258.4 L1319.7,255.1 L1322.8,251.9 L1325.9,248.6 L1329.1,245.2 L1332.2,241.9 L1335.4,238.5 L1338.5,235.1 L1341.6,231.7 L1344.8,228.2 L1347.9,224.7 L1351.1,221.2 L1354.2,217.7 L1357.3,214.1 L1360.5,210.5 L1363.6,206.9 L1366.8,203.2 L1369.9,199.5 L1373.0,195.8 L1376.2,192.1 L1379.3,188.3 L1382.5,184.6 L1385.6,180.8 L1388.7,176.9 L1391.9,173.1 L1395.0,169.2 L1398.2,165.4 L1401.3,161.5 L1404.4,157.5 L1407.6,153.6 L1410.7,149.7 L1413.9,145.7 L1417.0,141.7 L1420.1,137.7 L1423.3,133.7 L1426.4,129.7 L1429.6,125.6 L1432.7,121.6 L1435.8,117.5 L1439.0,113.5 L1442.1,109.4 L1445.3,105.3 L1448.4,101.2 L1451.5,97.1 L1454.7,93.0 L1457.8,88.9 L1461.0,84.7 L1464.1,80.6 L1467.2,76.5 L1470.4,72.4 L1473.5,68.2 L1476.7,64.1 L1479.8,60.0" fill="none" stroke="#0b2a48" stroke-width="3.3" stroke-linejoin="round"/>
<path d="M977.4,407.7 L980.5,408.7 L983.7,409.7 L986.8,410.7 L990.0,411.7 L993.1,412.6 L996.2,413.6 L999.4,414.5 L1002.5,415.3 L1005.7,416.2 L1008.8,417.0 L1011.9,417.7 L1015.1,418.4 L1018.2,419.1 L1021.4,419.6 L1024.5,420.2 L1027.6,420.6 L1030.8,421.0 L1033.9,421.3 L1037.1,421.5 L1040.2,421.6 L1043.3,421.6 L1046.5,421.5 L1049.6,421.4 L1052.8,421.2 L1055.9,420.8 L1059.0,420.4 L1062.2,420.0 L1065.3,419.4 L1068.5,418.8 L1071.6,418.1 L1074.7,417.4 L1077.9,416.5 L1081.0,415.7 L1084.2,414.7 L1087.3,413.8 L1090.4,412.7 L1093.6,411.7 L1096.7,410.5 L1099.9,409.4 L1103.0,408.2 L1106.1,406.9 L1109.3,405.6 L1112.4,404.3 L1115.6,403.0 L1118.7,401.6 L1121.8,400.2 L1125.0,398.7 L1128.1,397.3 L1131.3,395.7 L1134.4,394.2 L1137.5,392.6 L1140.7,391.0 L1143.8,389.3 L1147.0,387.6 L1150.1,385.9 L1153.2,384.2 L1156.4,382.4 L1159.5,380.6 L1162.7,378.7 L1165.8,376.9 L1168.9,374.9 L1172.1,373.0 L1175.2,371.0 L1178.4,369.0 L1181.5,367.0 L1184.6,365.0 L1187.8,362.9 L1190.9,360.8 L1194.1,358.6 L1197.2,356.5 L1200.3,354.3 L1203.5,352.0 L1206.6,349.8 L1209.8,347.5 L1212.9,345.2 L1216.0,342.9 L1219.2,340.5 L1222.3,338.1 L1225.5,335.7 L1228.6,333.3 L1231.7,330.8 L1234.9,328.3 L1238.0,325.8 L1241.2,323.3 L1244.3,320.7 L1247.4,318.1 L1250.6,315.5 L1253.7,312.9 L1256.9,310.2 L1260.0,307.5 L1263.1,304.8 L1266.3,302.0 L1269.4,299.3 L1272.6,296.4 L1275.7,293.6 L1278.8,290.8 L1282.0,287.9 L1285.1,284.9 L1288.3,282.0 L1291.4,279.0 L1294.5,276.0 L1297.7,273.0 L1300.8,269.9 L1304.0,266.8 L1307.1,263.7 L1310.2,260.6 L1313.4,257.4 L1316.5,254.2 L1319.7,250.9 L1322.8,247.7 L1325.9,244.4 L1329.1,241.0 L1332.2,237.7 L1335.4,234.3 L1338.5,230.9 L1341.6,227.4 L1344.8,223.9 L1347.9,220.4 L1351.1,216.8 L1354.2,213.2 L1357.3,209.6 L1360.5,206.0 L1363.6,202.3 L1366.8,198.6 L1369.9,194.8 L1373.0,191.1 L1376.2,187.3 L1379.3,183.5 L1382.5,179.6 L1385.6,175.7 L1388.7,171.8 L1391.9,167.9 L1395.0,164.0 L1398.2,160.0 L1401.3,156.0 L1404.4,152.0 L1407.6,148.0 L1410.7,143.9 L1413.9,139.9 L1417.0,135.8 L1420.1,131.7 L1423.3,127.6 L1426.4,123.4 L1429.6,119.3 L1432.7,115.1 L1435.8,111.0 L1439.0,106.8 L1442.1,102.6 L1445.3,98.4 L1448.4,94.2 L1451.5,90.0 L1454.7,85.8 L1457.8,81.5 L1461.0,77.3 L1464.1,73.0 L1467.2,68.8 L1470.4,64.6 L1473.5,60.3 L1476.7,56.1 L1479.8,51.8" fill="none" stroke="#404040" stroke-width="3.3" stroke-linejoin="round"/>
<text x="1073.0" y="97.3" font-size="46" text-anchor="start" fill="#000" font-family='"Liberation Sans", sans-serif' >In vacuum</text>
<text x="990.0" y="163.4" font-size="39" text-anchor="start" fill="#000" font-family='"Liberation Sans", sans-serif' >70</text>
<circle cx="1050.68" cy="138.88" r="2.63" fill="none" stroke="#333" stroke-width="1.52"/>
<path d="M1077.42,140.53 A13.05,13.05 0 1 0 1077.10,158.99" fill="none" stroke="#333" stroke-width="1.90"/>
<line x1="1077.42" y1="139.03" x2="1077.42" y2="143.33" stroke="#333" stroke-width="1.90"/>
<text x="1032.3" y="265.3" font-size="39" text-anchor="start" fill="#000" font-family='"Liberation Sans", sans-serif' >5</text>
<circle cx="1072.56" cy="239.96" r="2.70" fill="none" stroke="#333" stroke-width="1.52"/>
<path d="M1099.99,241.64 A13.40,13.40 0 1 0 1099.66,260.59" fill="none" stroke="#333" stroke-width="1.90"/>
<line x1="1099.99" y1="240.14" x2="1099.99" y2="244.51" stroke="#333" stroke-width="1.90"/>
<text x="991.3" y="367.7" font-size="39" text-anchor="start" fill="#000" font-family='"Liberation Sans", sans-serif' >20</text>
<circle cx="1051.98" cy="343.28" r="2.63" fill="none" stroke="#333" stroke-width="1.52"/>
<path d="M1078.72,344.93 A13.05,13.05 0 1 0 1078.40,363.39" fill="none" stroke="#333" stroke-width="1.90"/>
<line x1="1078.72" y1="343.43" x2="1078.72" y2="347.73" stroke="#333" stroke-width="1.90"/>
<line x1="1013.80" y1="315.80" x2="1013.80" y2="196.00" stroke="#404040" stroke-width="4" />
<polygon points="1013.8,173.8 1007.2,198.5 1020.4,198.5" fill="#404040"/>
<text transform="translate(844.6,346) rotate(-90)" font-family='"Liberation Sans", sans-serif' font-size="53" fill="#000"><tspan font-style="italic">I</tspan><tspan font-size="34" dy="12.5">ds</tspan><tspan dy="-12.5" xml:space="preserve"> (nA)</tspan></text>
<text x="1138.5" y="623.4" font-family='"Liberation Sans", sans-serif' font-size="51" fill="#000"><tspan font-style="italic">V</tspan><tspan font-size="32.5" dy="15">gate</tspan><tspan dy="-15" dx="5" xml:space="preserve"> (V)</tspan></text>
<text transform="translate(1580,51.2) scale(1.22,1)" font-size="65" font-family='"Liberation Sans", sans-serif'>c</text>
<rect x="1693.3" y="35.2" width="566.3" height="490.00000000000006" fill="none" stroke="#000" stroke-width="2.4"/>
<line x1="1682.80" y1="525.20" x2="1693.30" y2="525.20" stroke="#000" stroke-width="2.4" />
<line x1="1687.80" y1="480.45" x2="1693.30" y2="480.45" stroke="#000" stroke-width="2.4" />
<line x1="1682.80" y1="435.70" x2="1693.30" y2="435.70" stroke="#000" stroke-width="2.4" />
<line x1="1687.80" y1="390.95" x2="1693.30" y2="390.95" stroke="#000" stroke-width="2.4" />
<line x1="1682.80" y1="346.20" x2="1693.30" y2="346.20" stroke="#000" stroke-width="2.4" />
<line x1="1687.80" y1="301.45" x2="1693.30" y2="301.45" stroke="#000" stroke-width="2.4" />
<line x1="1682.80" y1="256.70" x2="1693.30" y2="256.70" stroke="#000" stroke-width="2.4" />
<line x1="1687.80" y1="211.95" x2="1693.30" y2="211.95" stroke="#000" stroke-width="2.4" />
<line x1="1682.80" y1="167.20" x2="1693.30" y2="167.20" stroke="#000" stroke-width="2.4" />
<line x1="1687.80" y1="122.45" x2="1693.30" y2="122.45" stroke="#000" stroke-width="2.4" />
<line x1="1682.80" y1="77.70" x2="1693.30" y2="77.70" stroke="#000" stroke-width="2.4" />
<line x1="1687.80" y1="35.20" x2="1693.30" y2="35.20" stroke="#000" stroke-width="2.4" />
<text x="1670.5" y="536.7" font-size="42.5" text-anchor="end" fill="#000" font-family='"Liberation Sans", sans-serif' >2</text>
<text x="1670.5" y="447.3" font-size="42.5" text-anchor="end" fill="#000" font-family='"Liberation Sans", sans-serif' >4</text>
<text x="1670.5" y="358.0" font-size="42.5" text-anchor="end" fill="#000" font-family='"Liberation Sans", sans-serif' >6</text>
<text x="1670.5" y="268.5" font-size="42.5" text-anchor="end" fill="#000" font-family='"Liberation Sans", sans-serif' >8</text>
<text x="1670.5" y="179.0" font-size="42.5" text-anchor="end" fill="#000" font-family='"Liberation Sans", sans-serif' >10</text>
<text x="1670.5" y="91.3" font-size="42.5" text-anchor="end" fill="#000" font-family='"Liberation Sans", sans-serif' >12</text>
<line x1="1693.74" y1="525.20" x2="1693.74" y2="530.70" stroke="#000" stroke-width="2.4" />
<line x1="1740.90" y1="525.20" x2="1740.90" y2="535.20" stroke="#000" stroke-width="2.4" />
<line x1="1788.06" y1="525.20" x2="1788.06" y2="530.70" stroke="#000" stroke-width="2.4" />
<line x1="1835.22" y1="525.20" x2="1835.22" y2="535.20" stroke="#000" stroke-width="2.4" />
<line x1="1882.38" y1="525.20" x2="1882.38" y2="530.70" stroke="#000" stroke-width="2.4" />
<line x1="1929.54" y1="525.20" x2="1929.54" y2="535.20" stroke="#000" stroke-width="2.4" />
<line x1="1976.70" y1="525.20" x2="1976.70" y2="530.70" stroke="#000" stroke-width="2.4" />
<line x1="2023.86" y1="525.20" x2="2023.86" y2="535.20" stroke="#000" stroke-width="2.4" />
<line x1="2071.02" y1="525.20" x2="2071.02" y2="530.70" stroke="#000" stroke-width="2.4" />
<line x1="2118.18" y1="525.20" x2="2118.18" y2="535.20" stroke="#000" stroke-width="2.4" />
<line x1="2165.34" y1="525.20" x2="2165.34" y2="530.70" stroke="#000" stroke-width="2.4" />
<line x1="2212.50" y1="525.20" x2="2212.50" y2="535.20" stroke="#000" stroke-width="2.4" />
<line x1="2259.66" y1="525.20" x2="2259.66" y2="530.70" stroke="#000" stroke-width="2.4" />
<text x="1739.4" y="576.3" font-size="42.5" text-anchor="middle" fill="#000" font-family='"Liberation Sans", sans-serif' >20</text>
<text x="1833.7" y="576.3" font-size="42.5" text-anchor="middle" fill="#000" font-family='"Liberation Sans", sans-serif' >30</text>
<text x="1928.0" y="576.3" font-size="42.5" text-anchor="middle" fill="#000" font-family='"Liberation Sans", sans-serif' >40</text>
<text x="2022.4" y="576.3" font-size="42.5" text-anchor="middle" fill="#000" font-family='"Liberation Sans", sans-serif' >50</text>
<text x="2116.7" y="576.3" font-size="42.5" text-anchor="middle" fill="#000" font-family='"Liberation Sans", sans-serif' >60</text>
<text x="2211.0" y="576.3" font-size="42.5" text-anchor="middle" fill="#000" font-family='"Liberation Sans", sans-serif' >70</text>
<circle cx="1740.9" cy="471.1" r="9.2" fill="url(#gb)"/>
<circle cx="1740.9" cy="354.7" r="9.2" fill="url(#gr)"/>
<circle cx="1788.1" cy="453.6" r="9.2" fill="url(#gb)"/>
<circle cx="1788.1" cy="310.8" r="9.2" fill="url(#gr)"/>
<circle cx="1835.2" cy="445.1" r="9.2" fill="url(#gb)"/>
<circle cx="1835.2" cy="301.0" r="9.2" fill="url(#gr)"/>
<circle cx="1882.4" cy="428.5" r="9.2" fill="url(#gb)"/>
<circle cx="1882.4" cy="265.2" r="9.2" fill="url(#gr)"/>
<circle cx="1929.5" cy="403.9" r="9.2" fill="url(#gb)"/>
<circle cx="1929.5" cy="250.0" r="9.2" fill="url(#gr)"/>
<circle cx="1976.7" cy="393.2" r="9.2" fill="url(#gb)"/>
<circle cx="1976.7" cy="226.3" r="9.2" fill="url(#gr)"/>
<circle cx="2023.9" cy="379.8" r="9.2" fill="url(#gb)"/>
<circle cx="2023.9" cy="221.8" r="9.2" fill="url(#gr)"/>
<circle cx="2071.0" cy="366.3" r="9.2" fill="url(#gb)"/>
<circle cx="2071.0" cy="187.3" r="9.2" fill="url(#gr)"/>
<circle cx="2118.2" cy="352.0" r="9.2" fill="url(#gb)"/>
<circle cx="2118.2" cy="145.3" r="9.2" fill="url(#gr)"/>
<circle cx="2165.3" cy="343.1" r="9.2" fill="url(#gb)"/>
<circle cx="2165.3" cy="154.2" r="9.2" fill="url(#gr)"/>
<circle cx="2212.5" cy="333.7" r="9.2" fill="url(#gb)"/>
<circle cx="2212.5" cy="136.3" r="9.2" fill="url(#gr)"/>
<circle cx="1744.6" cy="78.2" r="9.2" fill="url(#gb)"/>
<circle cx="1744.6" cy="129.9" r="9.2" fill="url(#gr)"/>
<text x="1802.5" y="91.6" font-size="44" text-anchor="start" fill="#000" font-family='"Liberation Sans", sans-serif' letter-spacing="-0.8">In vacuum</text>
<text x="1802.5" y="144.8" font-size="44" text-anchor="start" fill="#000" font-family='"Liberation Sans", sans-serif' letter-spacing="-0.8">In air</text>
<text transform="translate(1609.2,475.5) rotate(-90)" font-family='"Liberation Sans", sans-serif' font-size="49" fill="#000"><tspan font-family='"Liberation Serif", serif' font-style="italic">μ</tspan><tspan xml:space="preserve"> (10</tspan><tspan font-size="31.5" dy="-22">-4</tspan><tspan dy="22" xml:space="preserve"> cm</tspan><tspan font-size="31.5" dy="-22">2</tspan><tspan dy="22" xml:space="preserve"> V</tspan><tspan font-size="31.5" dy="-22">-1</tspan><tspan dy="22" xml:space="preserve"> s</tspan><tspan font-size="31.5" dy="-22">-1</tspan><tspan dy="22">)</tspan></text>
<text x="1916.0" y="632.0" font-size="46" text-anchor="start" font-style="italic" fill="#000" font-family='"Liberation Sans", sans-serif' >T</text>
<text x="1956.5" y="632.0" font-size="46" text-anchor="start" fill="#000" font-family='"Liberation Sans", sans-serif' >(</text>
<circle cx="1981.80" cy="602.60" r="3.21" fill="none" stroke="#333" stroke-width="1.52"/>
<path d="M2014.62,604.48 A16.15,16.15 0 1 0 2014.22,627.32" fill="none" stroke="#333" stroke-width="1.90"/>
<line x1="2014.62" y1="602.98" x2="2014.62" y2="607.90" stroke="#333" stroke-width="1.90"/>
<text x="2023.5" y="632.0" font-size="46" text-anchor="start" fill="#000" font-family='"Liberation Sans", sans-serif' >)</text>
<text transform="translate(-0.5,684.3) scale(1.1,1.09)" font-size="65" font-family='"Liberation Sans", sans-serif'>d</text>
<rect x="193.7" y="710.1" width="568.8" height="490.30000000000007" fill="none" stroke="#000" stroke-width="2.4"/>
<line x1="183.70" y1="1200.40" x2="193.70" y2="1200.40" stroke="#000" stroke-width="2.4" />
<line x1="188.20" y1="1159.54" x2="193.70" y2="1159.54" stroke="#000" stroke-width="2.4" />
<line x1="183.70" y1="1118.69" x2="193.70" y2="1118.69" stroke="#000" stroke-width="2.4" />
<line x1="188.20" y1="1077.83" x2="193.70" y2="1077.83" stroke="#000" stroke-width="2.4" />
<line x1="183.70" y1="1036.97" x2="193.70" y2="1036.97" stroke="#000" stroke-width="2.4" />
<line x1="188.20" y1="996.11" x2="193.70" y2="996.11" stroke="#000" stroke-width="2.4" />
<line x1="183.70" y1="955.26" x2="193.70" y2="955.26" stroke="#000" stroke-width="2.4" />
<line x1="188.20" y1="914.40" x2="193.70" y2="914.40" stroke="#000" stroke-width="2.4" />
<line x1="183.70" y1="873.54" x2="193.70" y2="873.54" stroke="#000" stroke-width="2.4" />
<line x1="188.20" y1="832.68" x2="193.70" y2="832.68" stroke="#000" stroke-width="2.4" />
<line x1="183.70" y1="791.83" x2="193.70" y2="791.83" stroke="#000" stroke-width="2.4" />
<line x1="188.20" y1="750.97" x2="193.70" y2="750.97" stroke="#000" stroke-width="2.4" />
<line x1="183.70" y1="710.11" x2="193.70" y2="710.11" stroke="#000" stroke-width="2.4" />
<text x="173.5" y="1210.2" font-size="42.5" text-anchor="end" fill="#000" font-family='"Liberation Sans", sans-serif' >0.5</text>
<text x="173.5" y="1128.5" font-size="42.5" text-anchor="end" fill="#000" font-family='"Liberation Sans", sans-serif' >1.0</text>
<text x="173.5" y="1046.8" font-size="42.5" text-anchor="end" fill="#000" font-family='"Liberation Sans", sans-serif' >1.5</text>
<text x="173.5" y="965.1" font-size="42.5" text-anchor="end" fill="#000" font-family='"Liberation Sans", sans-serif' >2.0</text>
<text x="173.5" y="883.3" font-size="42.5" text-anchor="end" fill="#000" font-family='"Liberation Sans", sans-serif' >2.5</text>
<text x="173.5" y="801.6" font-size="42.5" text-anchor="end" fill="#000" font-family='"Liberation Sans", sans-serif' >3.0</text>
<text x="173.5" y="719.9" font-size="42.5" text-anchor="end" fill="#000" font-family='"Liberation Sans", sans-serif' >3.5</text>
<line x1="193.80" y1="1200.40" x2="193.80" y2="1206.20" stroke="#000" stroke-width="2.4" />
<line x1="241.20" y1="1200.40" x2="241.20" y2="1209.90" stroke="#000" stroke-width="2.4" />
<line x1="288.60" y1="1200.40" x2="288.60" y2="1206.20" stroke="#000" stroke-width="2.4" />
<line x1="336.00" y1="1200.40" x2="336.00" y2="1209.90" stroke="#000" stroke-width="2.4" />
<line x1="383.40" y1="1200.40" x2="383.40" y2="1206.20" stroke="#000" stroke-width="2.4" />
<line x1="430.80" y1="1200.40" x2="430.80" y2="1209.90" stroke="#000" stroke-width="2.4" />
<line x1="478.20" y1="1200.40" x2="478.20" y2="1206.20" stroke="#000" stroke-width="2.4" />
<line x1="525.60" y1="1200.40" x2="525.60" y2="1209.90" stroke="#000" stroke-width="2.4" />
<line x1="573.00" y1="1200.40" x2="573.00" y2="1206.20" stroke="#000" stroke-width="2.4" />
<line x1="620.40" y1="1200.40" x2="620.40" y2="1209.90" stroke="#000" stroke-width="2.4" />
<line x1="667.80" y1="1200.40" x2="667.80" y2="1206.20" stroke="#000" stroke-width="2.4" />
<line x1="715.20" y1="1200.40" x2="715.20" y2="1209.90" stroke="#000" stroke-width="2.4" />
<line x1="762.60" y1="1200.40" x2="762.60" y2="1206.20" stroke="#000" stroke-width="2.4" />
<text x="239.4" y="1251.0" font-size="42.5" text-anchor="middle" fill="#000" font-family='"Liberation Sans", sans-serif' >20</text>
<text x="334.2" y="1251.0" font-size="42.5" text-anchor="middle" fill="#000" font-family='"Liberation Sans", sans-serif' >30</text>
<text x="429.0" y="1251.0" font-size="42.5" text-anchor="middle" fill="#000" font-family='"Liberation Sans", sans-serif' >40</text>
<text x="523.8" y="1251.0" font-size="42.5" text-anchor="middle" fill="#000" font-family='"Liberation Sans", sans-serif' >50</text>
<text x="618.6" y="1251.0" font-size="42.5" text-anchor="middle" fill="#000" font-family='"Liberation Sans", sans-serif' >60</text>
<text x="713.4" y="1251.0" font-size="42.5" text-anchor="middle" fill="#000" font-family='"Liberation Sans", sans-serif' >70</text>
<circle cx="241.2" cy="975.0" r="9.2" fill="url(#gb)"/>
<circle cx="288.6" cy="969.8" r="9.2" fill="url(#gb)"/>
<circle cx="336.0" cy="940.1" r="9.2" fill="url(#gb)"/>
<circle cx="383.4" cy="935.2" r="9.2" fill="url(#gb)"/>
<circle cx="430.8" cy="934.5" r="9.2" fill="url(#gb)"/>
<circle cx="478.2" cy="918.0" r="9.2" fill="url(#gb)"/>
<circle cx="525.6" cy="887.1" r="9.2" fill="url(#gb)"/>
<circle cx="573.0" cy="878.6" r="9.2" fill="url(#gb)"/>
<circle cx="620.4" cy="845.4" r="9.2" fill="url(#gb)"/>
<circle cx="667.8" cy="840.4" r="9.2" fill="url(#gb)"/>
<circle cx="715.2" cy="811.4" r="9.2" fill="url(#gb)"/>
<circle cx="241.2" cy="1089.6" r="9.2" fill="url(#gr2)"/>
<circle cx="288.6" cy="1081.7" r="9.2" fill="url(#gr2)"/>
<circle cx="336.0" cy="1075.5" r="9.2" fill="url(#gr2)"/>
<circle cx="383.4" cy="1064.8" r="9.2" fill="url(#gr2)"/>
<circle cx="430.8" cy="1051.5" r="9.2" fill="url(#gr2)"/>
<circle cx="478.2" cy="1032.1" r="9.2" fill="url(#gr2)"/>
<circle cx="525.6" cy="999.7" r="9.2" fill="url(#gr2)"/>
<circle cx="573.0" cy="977.8" r="9.2" fill="url(#gr2)"/>
<circle cx="620.4" cy="952.1" r="9.2" fill="url(#gr2)"/>
<circle cx="667.8" cy="885.3" r="9.2" fill="url(#gr2)"/>
<circle cx="715.2" cy="828.3" r="9.2" fill="url(#gr2)"/>
<circle cx="245.9" cy="749.6" r="9.2" fill="url(#gb)"/>
<circle cx="245.9" cy="803.6" r="9.2" fill="url(#gr2)"/>
<text x="303.5" y="763.8" font-size="44" text-anchor="start" fill="#000" font-family='"Liberation Sans", sans-serif' letter-spacing="-0.8">In vacuum</text>
<text x="303.5" y="817.5" font-size="44" text-anchor="start" fill="#000" font-family='"Liberation Sans", sans-serif' letter-spacing="-0.8">In air</text>
<text transform="translate(83.7,1112) rotate(-90)" font-family='"Liberation Sans", sans-serif' font-size="48.5" fill="#000"><tspan font-style="italic">n</tspan><tspan font-size="31" dy="13">min</tspan><tspan dy="-13" xml:space="preserve"> (10</tspan><tspan font-size="30" dy="-22">18</tspan><tspan dy="22" xml:space="preserve"> cm</tspan><tspan font-size="30" dy="-22">-3</tspan><tspan dy="22">)</tspan></text>
<text x="418.0" y="1307.3" font-size="46" text-anchor="start" font-style="italic" fill="#000" font-family='"Liberation Sans", sans-serif' >T</text>
<text x="459.5" y="1307.3" font-size="46" text-anchor="start" fill="#000" font-family='"Liberation Sans", sans-serif' >(</text>
<circle cx="482.91" cy="1277.01" r="3.22" fill="none" stroke="#333" stroke-width="1.52"/>
<path d="M515.83,1278.90 A16.20,16.20 0 1 0 515.43,1301.80" fill="none" stroke="#333" stroke-width="1.90"/>
<line x1="515.83" y1="1277.40" x2="515.83" y2="1282.33" stroke="#333" stroke-width="1.90"/>
<text x="524.8" y="1307.3" font-size="46" text-anchor="start" fill="#000" font-family='"Liberation Sans", sans-serif' >)</text>
<text transform="translate(853.5,683.7) scale(1.2,1)" font-size="65" font-family='"Liberation Sans", sans-serif'>e</text>
<path d="M955.3,721.2 L957.5,724.6 L959.8,727.9 L962.0,731.2 L964.3,734.5 L966.5,737.8 L968.8,741.0 L971.0,744.2 L973.3,747.4 L975.5,750.6 L977.8,753.7 L980.0,756.8 L982.3,759.9 L984.5,763.0 L986.8,766.0 L989.0,769.0 L991.3,772.0 L993.5,774.9 L995.8,777.8 L998.0,780.6 L1000.3,783.5 L1002.5,786.2 L1004.8,789.0 L1007.0,791.7 L1009.3,794.3 L1011.5,796.9 L1013.8,799.5 L1016.0,802.0 L1018.3,804.5 L1020.5,806.9 L1022.8,809.3 L1025.0,811.6 L1027.3,813.9 L1029.5,816.1 L1031.8,818.2 L1034.0,820.3 L1036.3,822.3 L1038.5,824.3 L1040.8,826.2 L1043.0,828.0 L1045.3,829.7 L1047.5,831.4 L1049.8,833.0 L1052.0,834.6 L1054.3,836.0 L1056.5,837.4 L1058.8,838.7 L1061.0,839.9 L1063.3,841.0 L1065.5,842.1 L1067.8,843.1 L1070.0,843.9 L1072.3,844.7 L1074.5,845.4 L1076.8,846.0 L1079.0,846.5 L1081.3,846.9 L1083.5,847.3 L1085.8,847.5 L1088.0,847.7 L1090.3,847.7 L1092.5,847.7 L1094.8,847.5 L1097.0,847.3 L1099.3,846.9 L1101.5,846.5 L1103.8,846.0 L1106.0,845.4 L1108.3,844.7 L1110.5,843.9 L1112.8,843.1 L1115.0,842.1 L1117.3,841.0 L1119.5,839.9 L1121.8,838.7 L1124.0,837.4 L1126.3,836.0 L1128.5,834.6 L1130.8,833.0 L1133.0,831.4 L1135.3,829.7 L1137.5,828.0 L1139.8,826.2 L1142.0,824.3 L1144.3,822.3 L1146.5,820.3 L1148.8,818.2 L1151.0,816.1 L1153.3,813.9 L1155.5,811.6 L1157.8,809.3 L1160.0,806.9 L1162.3,804.5 L1164.5,802.0 L1166.8,799.5 L1169.0,796.9 L1171.3,794.3 L1173.5,791.7 L1175.8,789.0 L1178.0,786.2 L1180.3,783.5 L1182.5,780.6 L1184.8,777.8 L1187.0,774.9 L1189.3,772.0 L1191.5,769.0 L1193.8,766.0 L1196.0,763.0 L1198.3,759.9 L1200.5,756.8 L1202.8,753.7 L1205.0,750.6 L1207.3,747.4 L1209.5,744.2 L1211.8,741.0 L1214.0,737.8 L1216.3,734.5 L1218.5,731.2 L1220.8,727.9 L1223.0,724.6 L1225.3,721.2" fill="none" stroke="#1f1fc4" stroke-width="3.6" stroke-linecap="round"/>
<path d="M956.4,1160.8 L958.7,1157.4 L960.9,1154.1 L963.2,1150.8 L965.4,1147.5 L967.7,1144.2 L969.9,1141.0 L972.2,1137.8 L974.4,1134.6 L976.7,1131.4 L978.9,1128.3 L981.2,1125.2 L983.4,1122.1 L985.7,1119.0 L987.9,1116.0 L990.2,1113.0 L992.4,1110.0 L994.7,1107.1 L996.9,1104.2 L999.2,1101.4 L1001.4,1098.5 L1003.7,1095.8 L1005.9,1093.0 L1008.2,1090.3 L1010.4,1087.7 L1012.7,1085.1 L1014.9,1082.5 L1017.2,1080.0 L1019.4,1077.5 L1021.7,1075.1 L1023.9,1072.7 L1026.2,1070.4 L1028.4,1068.1 L1030.7,1065.9 L1032.9,1063.8 L1035.2,1061.7 L1037.4,1059.7 L1039.7,1057.7 L1041.9,1055.8 L1044.2,1054.0 L1046.4,1052.3 L1048.7,1050.6 L1050.9,1049.0 L1053.2,1047.4 L1055.4,1046.0 L1057.7,1044.6 L1059.9,1043.3 L1062.2,1042.1 L1064.4,1041.0 L1066.7,1039.9 L1068.9,1039.0 L1071.2,1038.1 L1073.4,1037.3 L1075.7,1036.6 L1077.9,1036.0 L1080.2,1035.5 L1082.4,1035.1 L1084.7,1034.7 L1086.9,1034.5 L1089.2,1034.3 L1091.4,1034.3 L1093.7,1034.3 L1095.9,1034.5 L1098.2,1034.7 L1100.4,1035.1 L1102.7,1035.5 L1104.9,1036.0 L1107.2,1036.6 L1109.4,1037.3 L1111.7,1038.1 L1113.9,1039.0 L1116.2,1039.9 L1118.4,1041.0 L1120.7,1042.1 L1122.9,1043.3 L1125.2,1044.6 L1127.4,1046.0 L1129.7,1047.4 L1131.9,1049.0 L1134.2,1050.6 L1136.4,1052.3 L1138.7,1054.0 L1140.9,1055.8 L1143.2,1057.7 L1145.4,1059.7 L1147.7,1061.7 L1149.9,1063.8 L1152.2,1065.9 L1154.4,1068.1 L1156.7,1070.4 L1158.9,1072.7 L1161.2,1075.1 L1163.4,1077.5 L1165.7,1080.0 L1167.9,1082.5 L1170.2,1085.1 L1172.4,1087.7 L1174.7,1090.3 L1176.9,1093.0 L1179.2,1095.8 L1181.4,1098.5 L1183.7,1101.4 L1185.9,1104.2 L1188.2,1107.1 L1190.4,1110.0 L1192.7,1113.0 L1194.9,1116.0 L1197.2,1119.0 L1199.4,1122.1 L1201.7,1125.2 L1203.9,1128.3 L1206.2,1131.4 L1208.4,1134.6 L1210.7,1137.8 L1212.9,1141.0 L1215.2,1144.2 L1217.4,1147.5 L1219.7,1150.8 L1221.9,1154.1 L1224.2,1157.4 L1226.4,1160.8" fill="none" stroke="#1f1fc4" stroke-width="3.6" stroke-linecap="round"/>
<path d="M1689.3,719.2 L1691.5,722.6 L1693.8,725.9 L1696.0,729.2 L1698.3,732.5 L1700.5,735.8 L1702.8,739.0 L1705.0,742.2 L1707.3,745.4 L1709.5,748.6 L1711.8,751.7 L1714.0,754.8 L1716.3,757.9 L1718.5,761.0 L1720.8,764.0 L1723.0,767.0 L1725.3,770.0 L1727.5,772.9 L1729.8,775.8 L1732.0,778.6 L1734.3,781.5 L1736.5,784.2 L1738.8,787.0 L1741.0,789.7 L1743.3,792.3 L1745.5,794.9 L1747.8,797.5 L1750.0,800.0 L1752.3,802.5 L1754.5,804.9 L1756.8,807.3 L1759.0,809.6 L1761.3,811.9 L1763.5,814.1 L1765.8,816.2 L1768.0,818.3 L1770.3,820.3 L1772.5,822.3 L1774.8,824.2 L1777.0,826.0 L1779.3,827.7 L1781.5,829.4 L1783.8,831.0 L1786.0,832.6 L1788.3,834.0 L1790.5,835.4 L1792.8,836.7 L1795.0,837.9 L1797.3,839.0 L1799.5,840.1 L1801.8,841.1 L1804.0,841.9 L1806.3,842.7 L1808.5,843.4 L1810.8,844.0 L1813.0,844.5 L1815.3,844.9 L1817.5,845.3 L1819.8,845.5 L1822.0,845.7 L1824.3,845.7 L1826.5,845.7 L1828.8,845.5 L1831.0,845.3 L1833.3,844.9 L1835.5,844.5 L1837.8,844.0 L1840.0,843.4 L1842.3,842.7 L1844.5,841.9 L1846.8,841.1 L1849.0,840.1 L1851.3,839.0 L1853.5,837.9 L1855.8,836.7 L1858.0,835.4 L1860.3,834.0 L1862.5,832.6 L1864.8,831.0 L1867.0,829.4 L1869.3,827.7 L1871.5,826.0 L1873.8,824.2 L1876.0,822.3 L1878.3,820.3 L1880.5,818.3 L1882.8,816.2 L1885.0,814.1 L1887.3,811.9 L1889.5,809.6 L1891.8,807.3 L1894.0,804.9 L1896.3,802.5 L1898.5,800.0 L1900.8,797.5 L1903.0,794.9 L1905.3,792.3 L1907.5,789.7 L1909.8,787.0 L1912.0,784.2 L1914.3,781.5 L1916.5,778.6 L1918.8,775.8 L1921.0,772.9 L1923.3,770.0 L1925.5,767.0 L1927.8,764.0 L1930.0,761.0 L1932.3,757.9 L1934.5,754.8 L1936.8,751.7 L1939.0,748.6 L1941.3,745.4 L1943.5,742.2 L1945.8,739.0 L1948.0,735.8 L1950.3,732.5 L1952.5,729.2 L1954.8,725.9 L1957.0,722.6 L1959.3,719.2" fill="none" stroke="#1f1fc4" stroke-width="3.6" stroke-linecap="round"/>
<path d="M1697.0,1163.0 L1699.3,1159.6 L1701.5,1156.2 L1703.8,1152.9 L1706.1,1149.6 L1708.3,1146.3 L1710.6,1143.0 L1712.9,1139.7 L1715.1,1136.5 L1717.4,1133.3 L1719.7,1130.1 L1721.9,1127.0 L1724.2,1123.9 L1726.5,1120.8 L1728.7,1117.7 L1731.0,1114.7 L1733.3,1111.7 L1735.5,1108.7 L1737.8,1105.8 L1740.1,1102.9 L1742.3,1100.1 L1744.6,1097.3 L1746.9,1094.5 L1749.1,1091.8 L1751.4,1089.1 L1753.7,1086.4 L1755.9,1083.8 L1758.2,1081.3 L1760.5,1078.8 L1762.7,1076.3 L1765.0,1073.9 L1767.3,1071.6 L1769.5,1069.3 L1771.8,1067.1 L1774.1,1064.9 L1776.3,1062.8 L1778.6,1060.7 L1780.9,1058.8 L1783.1,1056.8 L1785.4,1055.0 L1787.7,1053.2 L1789.9,1051.5 L1792.2,1049.9 L1794.5,1048.3 L1796.7,1046.9 L1799.0,1045.5 L1801.3,1044.1 L1803.5,1042.9 L1805.8,1041.8 L1808.1,1040.7 L1810.3,1039.7 L1812.6,1038.8 L1814.9,1038.0 L1817.1,1037.3 L1819.4,1036.7 L1821.7,1036.2 L1823.9,1035.8 L1826.2,1035.4 L1828.5,1035.2 L1830.7,1035.0 L1833.0,1035.0 L1835.3,1035.0 L1837.5,1035.2 L1839.8,1035.4 L1842.1,1035.8 L1844.3,1036.2 L1846.6,1036.7 L1848.9,1037.3 L1851.1,1038.0 L1853.4,1038.8 L1855.7,1039.7 L1857.9,1040.7 L1860.2,1041.8 L1862.5,1042.9 L1864.7,1044.1 L1867.0,1045.5 L1869.3,1046.9 L1871.5,1048.3 L1873.8,1049.9 L1876.1,1051.5 L1878.3,1053.2 L1880.6,1055.0 L1882.9,1056.8 L1885.1,1058.8 L1887.4,1060.7 L1889.7,1062.8 L1891.9,1064.9 L1894.2,1067.1 L1896.5,1069.3 L1898.7,1071.6 L1901.0,1073.9 L1903.3,1076.3 L1905.5,1078.8 L1907.8,1081.3 L1910.1,1083.8 L1912.3,1086.4 L1914.6,1089.1 L1916.9,1091.8 L1919.1,1094.5 L1921.4,1097.3 L1923.7,1100.1 L1925.9,1102.9 L1928.2,1105.8 L1930.5,1108.7 L1932.7,1111.7 L1935.0,1114.7 L1937.3,1117.7 L1939.5,1120.8 L1941.8,1123.9 L1944.1,1127.0 L1946.3,1130.1 L1948.6,1133.3 L1950.9,1136.5 L1953.1,1139.7 L1955.4,1143.0 L1957.7,1146.3 L1959.9,1149.6 L1962.2,1152.9 L1964.5,1156.2 L1966.7,1159.6 L1969.0,1163.0" fill="none" stroke="#1f1fc4" stroke-width="3.6" stroke-linecap="round"/>
<line x1="945" y1="898.2" x2="1254" y2="898.2" stroke="#000" stroke-width="4.5" stroke-dasharray="14.5,5.2"/>
<line x1="945" y1="939.8" x2="1254" y2="939.8" stroke="#8a8a8a" stroke-width="2" stroke-dasharray="12,8.3"/>
<text x="1254.0" y="752.1" font-size="42" text-anchor="start" fill="#000" font-family='"Liberation Sans", sans-serif' >CB</text>
<text x="1246.0" y="1196.9" font-size="42" text-anchor="start" fill="#000" font-family='"Liberation Sans", sans-serif' >VB</text>
<text x="1275" y="912.6" font-family='"Liberation Sans", sans-serif' font-size="43" fill="#000"><tspan font-style="italic">E</tspan><tspan font-size="29" dy="8">F</tspan></text>
<text x="1275" y="969.1" font-family='"Liberation Sans", sans-serif' font-size="43" fill="#000"><tspan font-style="italic">E</tspan><tspan font-size="29" dy="8">Fi</tspan></text>
<text x="988.5" y="1248.3" font-size="46" text-anchor="start" fill="#000" font-family='"Liberation Sans", sans-serif' letter-spacing="1.5">In vacuum</text>
<line x1="1680.3" y1="942.3" x2="1991" y2="942.3" stroke="#8a8a8a" stroke-width="2" stroke-dasharray="12,8.3"/>
<line x1="1678" y1="976.5" x2="1987" y2="976.5" stroke="#000" stroke-width="5" stroke-dasharray="14.3,5.2"/>
<line x1="1714.80" y1="989.40" x2="1741.80" y2="989.40" stroke="#3f8a2c" stroke-width="3.6" />
<line x1="1771.90" y1="989.40" x2="1798.90" y2="989.40" stroke="#3f8a2c" stroke-width="3.6" />
<line x1="1828.90" y1="989.40" x2="1856.00" y2="989.40" stroke="#3f8a2c" stroke-width="3.6" />
<line x1="1886.00" y1="989.40" x2="1915.30" y2="989.40" stroke="#3f8a2c" stroke-width="3.6" />
<line x1="1935.60" y1="989.40" x2="1961.80" y2="989.40" stroke="#3f8a2c" stroke-width="3.6" />
<line x1="1684.00" y1="1000.30" x2="1712.60" y2="1000.30" stroke="#3f8a2c" stroke-width="3.6" />
<line x1="1742.60" y1="1000.30" x2="1770.40" y2="1000.30" stroke="#3f8a2c" stroke-width="3.6" />
<line x1="1799.70" y1="1000.30" x2="1826.00" y2="1000.30" stroke="#3f8a2c" stroke-width="3.6" />
<line x1="1857.50" y1="1000.30" x2="1884.50" y2="1000.30" stroke="#3f8a2c" stroke-width="3.6" />
<line x1="1907.80" y1="1000.30" x2="1933.30" y2="1000.30" stroke="#3f8a2c" stroke-width="3.6" />
<line x1="1958.10" y1="1000.30" x2="1985.90" y2="1000.30" stroke="#3f8a2c" stroke-width="3.6" />
<line x1="1712.60" y1="1015.70" x2="1739.60" y2="1015.70" stroke="#3f8a2c" stroke-width="3.6" />
<line x1="1771.10" y1="1015.70" x2="1797.40" y2="1015.70" stroke="#3f8a2c" stroke-width="3.6" />
<line x1="1828.20" y1="1015.70" x2="1855.20" y2="1015.70" stroke="#3f8a2c" stroke-width="3.6" />
<line x1="1886.00" y1="1015.70" x2="1913.80" y2="1015.70" stroke="#3f8a2c" stroke-width="3.6" />
<line x1="1934.00" y1="1015.70" x2="1961.10" y2="1015.70" stroke="#3f8a2c" stroke-width="3.6" />
<line x1="1995.70" y1="999.40" x2="2053.00" y2="999.40" stroke="#a8a8a8" stroke-width="2.2" />
<line x1="1829.00" y1="1035.20" x2="2053.00" y2="1038.70" stroke="#a8a8a8" stroke-width="2.2" />
<line x1="2025.80" y1="1008.00" x2="2025.80" y2="1030.00" stroke="#000" stroke-width="2.2" />
<polygon points="2025.8,999.6 2020.4,1016.4 2031.2,1016.4" fill="#000"/>
<polygon points="2025.8,1038.5 2020.4,1022.6 2031.2,1022.6" fill="#000"/>
<text x="2071.0" y="1035.8" font-size="43.5" text-anchor="start" fill="#000" font-family='"Liberation Sans", sans-serif' letter-spacing="-1">0.175 eV</text>
<line x1="1813.90" y1="997.80" x2="1813.90" y2="1020.40" stroke="#d9542e" stroke-width="2.8" />
<polygon points="1813.9,1034.9 1805.7,1018.4 1822.1,1018.4" fill="#e03c0c"/>
<circle cx="1813.9" cy="989.8" r="7.6" fill="#fff" stroke="#d9542e" stroke-width="2.8"/>
<line x1="1898.80" y1="1011.30" x2="1898.80" y2="1051.10" stroke="#d9542e" stroke-width="2.8" />
<polygon points="1898.8,1065.7 1890.6,1049.1 1907.0,1049.1" fill="#e03c0c"/>
<circle cx="1898.8" cy="1003.3" r="7.6" fill="#fff" stroke="#d9542e" stroke-width="2.8"/>
<line x1="1755.40" y1="1030.10" x2="1755.40" y2="1066.90" stroke="#d9542e" stroke-width="2.8" />
<polygon points="1755.4,1081.4 1747.2,1064.9 1763.6,1064.9" fill="#e03c0c"/>
<circle cx="1755.4" cy="1022.1" r="7.6" fill="#fff" stroke="#d9542e" stroke-width="2.8"/>
<text x="1612" y="980.1" font-family='"Liberation Sans", sans-serif' font-size="44" fill="#000"><tspan font-style="italic">E</tspan><tspan font-size="29" dy="9">F</tspan></text>
<text x="2017.5" y="951.1" font-family='"Liberation Sans", sans-serif' font-size="43" fill="#000"><tspan font-style="italic">E</tspan><tspan font-size="29" dy="10">Fi</tspan></text>
<text x="1553.5" y="1046.8" font-family='"Liberation Sans", sans-serif' font-size="43" fill="#000"><tspan font-style="italic">E</tspan><tspan font-size="29" dy="10">A</tspan></text>
<line x1="1700.50" y1="1018.50" x2="1628.00" y2="1030.50" stroke="#555" stroke-width="1.8" />
<polygon points="1615.3,1032.6 1627,1022.2 1632,1038.8" fill="#000"/>
<text x="1572.3" y="1096.1" font-size="41.5" text-anchor="middle" fill="#000" font-family='"Liberation Sans", sans-serif' >(oxygen acceptor</text>
<text x="1572.0" y="1146.1" font-size="41.5" text-anchor="middle" fill="#000" font-family='"Liberation Sans", sans-serif' >level)</text>
<text x="1985.0" y="754.2" font-size="42" text-anchor="start" fill="#000" font-family='"Liberation Sans", sans-serif' >CB</text>
<text x="1988.5" y="1191.8" font-size="42" text-anchor="start" fill="#000" font-family='"Liberation Sans", sans-serif' >VB</text>
<text x="1787.5" y="1248.4" font-size="46" text-anchor="start" fill="#000" font-family='"Liberation Sans", sans-serif' letter-spacing="1.5">In air</text>
</svg>
</body></html>
